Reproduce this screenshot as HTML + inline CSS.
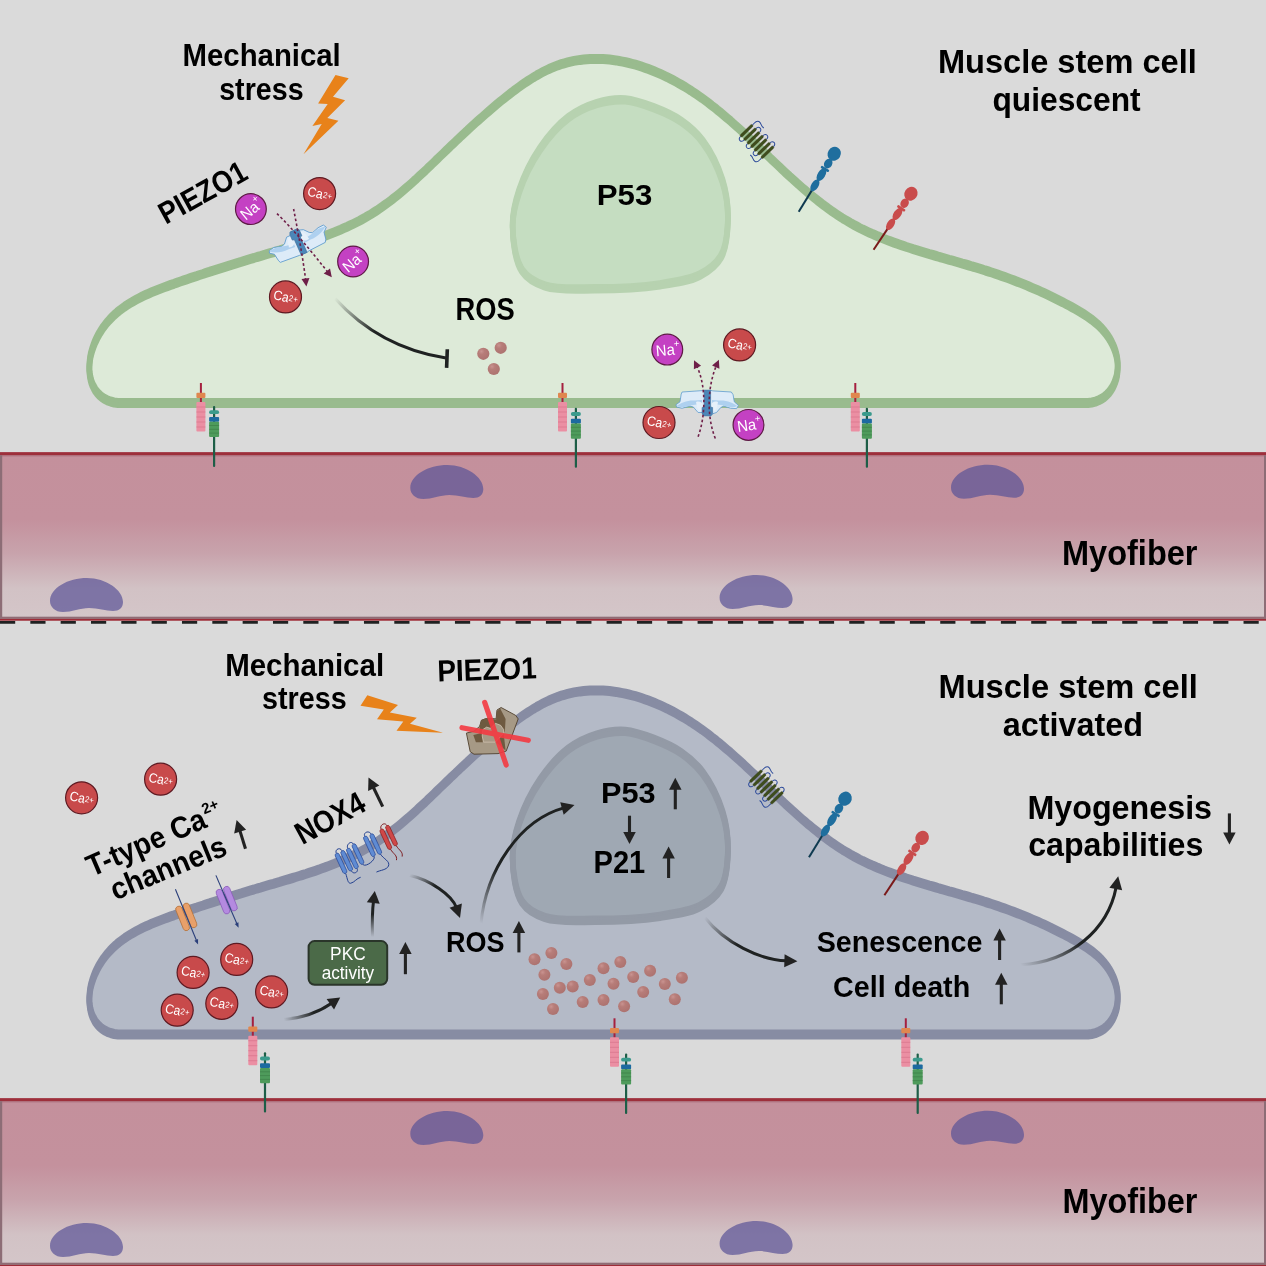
<!DOCTYPE html>
<html><head><meta charset="utf-8"><style>
html,body{margin:0;padding:0;background:#dadada;}
svg{display:block;font-family:"Liberation Sans", sans-serif;will-change:transform;}
</style></head><body>
<svg width="1266" height="1266" viewBox="0 0 1266 1266">

<defs>
 <linearGradient id="fib" x1="0" y1="0" x2="0" y2="1">
  <stop offset="0" stop-color="#c4909c"/>
  <stop offset="0.40" stop-color="#c4919d"/>
  <stop offset="0.60" stop-color="#c8a3ac"/>
  <stop offset="0.81" stop-color="#d2c2c5"/>
  <stop offset="1" stop-color="#d4c6c9"/>
 </linearGradient>
 <linearGradient id="fadeA" gradientUnits="userSpaceOnUse" x1="335" y1="298" x2="400" y2="340">
  <stop offset="0" stop-color="#222" stop-opacity="0"/>
  <stop offset="1" stop-color="#222" stop-opacity="1"/>
 </linearGradient>
 <radialGradient id="ros" cx="0.35" cy="0.3" r="0.7">
  <stop offset="0" stop-color="#c99390"/>
  <stop offset="0.35" stop-color="#b77d79"/>
  <stop offset="1" stop-color="#ad7370"/>
 </radialGradient>
</defs>

<defs><linearGradient id="gInh" gradientUnits="userSpaceOnUse" x1="334.8" y1="298.2" x2="446.8" y2="358.2"><stop offset="0" stop-color="#1f2222" stop-opacity="0.0"/><stop offset="0.4" stop-color="#1f2222" stop-opacity="1"/><stop offset="1" stop-color="#1f2222" stop-opacity="1"/></linearGradient><linearGradient id="gA1" gradientUnits="userSpaceOnUse" x1="283.8" y1="1019.5" x2="340.2" y2="997.4"><stop offset="0" stop-color="#1f2222" stop-opacity="0.0"/><stop offset="0.5" stop-color="#1f2222" stop-opacity="1"/><stop offset="1" stop-color="#1f2222" stop-opacity="1"/></linearGradient><linearGradient id="gA2" gradientUnits="userSpaceOnUse" x1="372.5" y1="937" x2="374.8" y2="891"><stop offset="0" stop-color="#1f2222" stop-opacity="0.0"/><stop offset="0.5" stop-color="#1f2222" stop-opacity="1"/><stop offset="1" stop-color="#1f2222" stop-opacity="1"/></linearGradient><linearGradient id="gA3" gradientUnits="userSpaceOnUse" x1="409.5" y1="875.3" x2="460" y2="918"><stop offset="0" stop-color="#1f2222" stop-opacity="0.0"/><stop offset="0.4" stop-color="#1f2222" stop-opacity="1"/><stop offset="1" stop-color="#1f2222" stop-opacity="1"/></linearGradient><linearGradient id="gA4" gradientUnits="userSpaceOnUse" x1="481" y1="923.5" x2="520" y2="840"><stop offset="0" stop-color="#1f2222" stop-opacity="0.0"/><stop offset="0.6" stop-color="#1f2222" stop-opacity="1"/><stop offset="1" stop-color="#1f2222" stop-opacity="1"/></linearGradient><linearGradient id="gA5" gradientUnits="userSpaceOnUse" x1="704.8" y1="917.5" x2="797.4" y2="961.2"><stop offset="0" stop-color="#1f2222" stop-opacity="0.0"/><stop offset="0.4" stop-color="#1f2222" stop-opacity="1"/><stop offset="1" stop-color="#1f2222" stop-opacity="1"/></linearGradient><linearGradient id="gA6" gradientUnits="userSpaceOnUse" x1="1020.6" y1="964.8" x2="1118.2" y2="876.3"><stop offset="0" stop-color="#1f2222" stop-opacity="0.0"/><stop offset="0.45" stop-color="#1f2222" stop-opacity="1"/><stop offset="1" stop-color="#1f2222" stop-opacity="1"/></linearGradient></defs>
<rect width="1266" height="1266" fill="#dadada"/>
<rect x="0" y="452.2" width="1266" height="168.50000000000006" fill="url(#fib)"/>
<rect x="0" y="452.2" width="1266" height="3" fill="#9d2f3b"/>
<rect x="0" y="455.2" width="1266" height="1.2" fill="#a86a76" opacity="0.7"/>
<rect x="0" y="616.7" width="1266" height="2.2" fill="#8f6c75"/>
<rect x="0" y="618.9" width="1266" height="1.8" fill="#9e2b37"/>
<rect x="0" y="455.2" width="2.2" height="163.5" fill="#8d6d76"/>
<rect x="1264" y="455.2" width="2.2" height="163.5" fill="#8d6d76"/>
<path transform="translate(410.3,465)" d="M0,23 C0,10 18,0 37,0 C56,0 73,12 73,24 C73,30 69,33 63,33 C56,33 48,30 39,30 C30,30 22,34 13,34 C5,34 0,29 0,23Z" fill="#5a5297" fill-opacity="0.7"/>
<path transform="translate(951,464.8)" d="M0,23 C0,10 18,0 37,0 C56,0 73,12 73,24 C73,30 69,33 63,33 C56,33 48,30 39,30 C30,30 22,34 13,34 C5,34 0,29 0,23Z" fill="#5a5297" fill-opacity="0.7"/>
<path transform="translate(50,578)" d="M0,23 C0,10 18,0 37,0 C56,0 73,12 73,24 C73,30 69,33 63,33 C56,33 48,30 39,30 C30,30 22,34 13,34 C5,34 0,29 0,23Z" fill="#5a5297" fill-opacity="0.7"/>
<path transform="translate(719.6,575)" d="M0,23 C0,10 18,0 37,0 C56,0 73,12 73,24 C73,30 69,33 63,33 C56,33 48,30 39,30 C30,30 22,34 13,34 C5,34 0,29 0,23Z" fill="#5a5297" fill-opacity="0.7"/>
<rect x="0" y="1098.2" width="1266" height="168.50000000000006" fill="url(#fib)"/>
<rect x="0" y="1098.2" width="1266" height="3" fill="#9d2f3b"/>
<rect x="0" y="1101.2" width="1266" height="1.2" fill="#a86a76" opacity="0.7"/>
<rect x="0" y="1262.7" width="1266" height="2.2" fill="#8f6c75"/>
<rect x="0" y="1264.9" width="1266" height="1.8" fill="#9e2b37"/>
<rect x="0" y="1101.2" width="2.2" height="163.5" fill="#8d6d76"/>
<rect x="1264" y="1101.2" width="2.2" height="163.5" fill="#8d6d76"/>
<path transform="translate(410.3,1111)" d="M0,23 C0,10 18,0 37,0 C56,0 73,12 73,24 C73,30 69,33 63,33 C56,33 48,30 39,30 C30,30 22,34 13,34 C5,34 0,29 0,23Z" fill="#5a5297" fill-opacity="0.7"/>
<path transform="translate(951,1110.8)" d="M0,23 C0,10 18,0 37,0 C56,0 73,12 73,24 C73,30 69,33 63,33 C56,33 48,30 39,30 C30,30 22,34 13,34 C5,34 0,29 0,23Z" fill="#5a5297" fill-opacity="0.7"/>
<path transform="translate(50,1223)" d="M0,23 C0,10 18,0 37,0 C56,0 73,12 73,24 C73,30 69,33 63,33 C56,33 48,30 39,30 C30,30 22,34 13,34 C5,34 0,29 0,23Z" fill="#5a5297" fill-opacity="0.7"/>
<path transform="translate(719.6,1221)" d="M0,23 C0,10 18,0 37,0 C56,0 73,12 73,24 C73,30 69,33 63,33 C56,33 48,30 39,30 C30,30 22,34 13,34 C5,34 0,29 0,23Z" fill="#5a5297" fill-opacity="0.7"/>
<line x1="0" y1="622.45" x2="1266" y2="622.45" stroke="#1f2121" stroke-width="2.7" stroke-dasharray="15.2 15.13"/>
<path d="M118.0,403.0 L114.1,402.5 L110.6,401.5 L107.3,400.3 L104.3,398.8 L101.7,397.0 L99.3,394.9 L97.2,392.6 L95.3,390.1 L93.8,387.4 L92.4,384.6 L91.3,381.6 L90.5,378.5 L89.9,375.4 L89.5,372.2 L89.3,368.9 L89.4,365.6 L89.6,362.3 L90.0,359.0 L90.6,355.7 L91.4,352.4 L92.4,349.1 L93.5,345.9 L94.7,342.7 L96.2,339.5 L97.7,336.4 L99.4,333.4 L101.2,330.5 L103.1,327.6 L105.2,324.9 L107.3,322.2 L109.5,319.7 L111.9,317.3 L114.3,314.9 L116.8,312.7 L119.3,310.6 L122.0,308.6 L124.7,306.6 L127.5,304.8 L130.3,303.0 L133.2,301.3 L136.2,299.6 L139.1,298.1 L142.2,296.5 L145.3,295.1 L148.4,293.7 L151.5,292.3 L154.7,291.0 L157.9,289.7 L161.1,288.5 L164.3,287.3 L167.5,286.1 L170.7,284.9 L174.0,283.8 L177.2,282.6 L180.4,281.5 L183.6,280.4 L186.9,279.3 L190.1,278.2 L193.3,277.1 L196.5,276.1 L199.7,275.0 L202.9,274.0 L206.0,272.9 L209.2,271.9 L212.4,270.8 L215.6,269.8 L218.8,268.8 L222.0,267.8 L225.2,266.8 L228.3,265.8 L231.5,264.8 L234.7,263.8 L237.9,262.8 L241.1,261.9 L244.3,260.9 L247.5,259.9 L250.7,258.9 L253.9,258.0 L257.1,257.0 L260.3,256.1 L263.5,255.1 L266.7,254.2 L270.0,253.2 L273.2,252.3 L276.4,251.3 L279.7,250.4 L282.9,249.4 L286.2,248.4 L289.4,247.5 L292.7,246.5 L295.9,245.5 L299.1,244.5 L302.4,243.5 L305.6,242.5 L308.8,241.4 L312.0,240.4 L315.3,239.3 L318.5,238.2 L321.6,237.0 L324.8,235.9 L328.0,234.7 L331.1,233.5 L334.3,232.3 L337.4,231.0 L340.5,229.7 L343.6,228.3 L346.7,227.0 L349.7,225.6 L352.8,224.1 L355.8,222.6 L358.8,221.1 L361.8,219.5 L364.7,217.9 L367.6,216.2 L370.5,214.5 L373.4,212.7 L376.2,210.9 L379.0,209.0 L381.8,207.1 L384.6,205.1 L387.3,203.1 L390.0,201.1 L392.7,199.0 L395.4,196.9 L398.0,194.8 L400.7,192.6 L403.3,190.4 L405.9,188.2 L408.4,186.0 L411.0,183.7 L413.5,181.4 L416.0,179.2 L418.5,176.8 L421.0,174.5 L423.5,172.2 L426.0,169.9 L428.4,167.5 L430.9,165.2 L433.3,162.9 L435.7,160.5 L438.1,158.2 L440.5,155.9 L442.9,153.6 L445.3,151.3 L447.7,149.0 L450.0,146.7 L452.4,144.4 L454.8,142.2 L457.2,139.9 L459.5,137.7 L461.9,135.4 L464.3,133.2 L466.7,131.0 L469.1,128.7 L471.5,126.5 L474.0,124.3 L476.4,122.1 L478.9,119.9 L481.4,117.7 L483.9,115.5 L486.4,113.3 L488.9,111.1 L491.5,108.9 L494.1,106.7 L496.7,104.4 L499.4,102.2 L502.1,100.0 L504.8,97.8 L507.6,95.6 L510.3,93.5 L513.1,91.3 L516.0,89.2 L518.8,87.1 L521.7,85.0 L524.6,83.0 L527.5,81.1 L530.5,79.2 L533.5,77.3 L536.5,75.5 L539.5,73.8 L542.5,72.2 L545.6,70.6 L548.7,69.1 L551.8,67.8 L554.9,66.5 L558.0,65.3 L561.2,64.2 L564.3,63.3 L567.5,62.4 L570.7,61.6 L573.9,60.9 L577.1,60.4 L580.3,59.9 L583.6,59.5 L586.8,59.2 L590.0,59.0 L593.3,58.9 L596.5,58.9 L599.8,58.9 L603.1,59.1 L606.3,59.3 L609.6,59.6 L612.8,60.0 L616.1,60.4 L619.3,61.0 L622.6,61.6 L625.8,62.3 L629.0,63.0 L632.2,63.8 L635.5,64.7 L638.7,65.7 L641.8,66.7 L645.0,67.8 L648.2,68.9 L651.3,70.1 L654.5,71.4 L657.6,72.7 L660.7,74.1 L663.8,75.5 L666.8,76.9 L669.9,78.5 L672.9,80.0 L675.9,81.6 L678.8,83.3 L681.8,85.0 L684.7,86.7 L687.6,88.5 L690.5,90.3 L693.3,92.2 L696.1,94.1 L698.9,96.0 L701.7,97.9 L704.4,99.9 L707.1,101.9 L709.8,104.0 L712.5,106.1 L715.2,108.1 L717.8,110.3 L720.4,112.4 L723.0,114.6 L725.6,116.8 L728.2,119.0 L730.8,121.2 L733.3,123.5 L735.8,125.7 L738.4,128.0 L740.9,130.3 L743.4,132.6 L745.9,134.9 L748.4,137.2 L750.9,139.6 L753.3,141.9 L755.8,144.3 L758.3,146.6 L760.7,149.0 L763.2,151.3 L765.6,153.7 L768.1,156.0 L770.5,158.4 L773.0,160.7 L775.5,163.1 L777.9,165.4 L780.4,167.7 L782.8,170.1 L785.3,172.4 L787.8,174.7 L790.3,177.0 L792.8,179.2 L795.3,181.5 L797.8,183.8 L800.3,186.0 L802.8,188.2 L805.4,190.4 L807.9,192.6 L810.5,194.7 L813.1,196.8 L815.7,198.9 L818.3,201.0 L820.9,203.0 L823.5,205.1 L826.2,207.0 L828.9,209.0 L831.6,210.9 L834.3,212.8 L837.1,214.7 L839.8,216.5 L842.6,218.3 L845.5,220.0 L848.3,221.7 L851.2,223.4 L854.1,225.0 L857.0,226.5 L859.9,228.1 L862.9,229.6 L865.9,231.0 L868.9,232.4 L872.0,233.8 L875.1,235.1 L878.1,236.4 L881.3,237.7 L884.4,239.0 L887.5,240.2 L890.7,241.4 L893.9,242.6 L897.0,243.7 L900.3,244.8 L903.5,245.9 L906.7,247.0 L909.9,248.0 L913.2,249.1 L916.5,250.1 L919.7,251.1 L923.0,252.1 L926.3,253.1 L929.6,254.1 L932.9,255.0 L936.2,256.0 L939.4,257.0 L942.7,257.9 L946.0,258.8 L949.3,259.8 L952.6,260.7 L955.9,261.7 L959.2,262.6 L962.5,263.6 L965.8,264.5 L969.1,265.5 L972.3,266.5 L975.6,267.4 L978.9,268.4 L982.1,269.4 L985.3,270.5 L988.6,271.5 L991.8,272.5 L995.0,273.6 L998.1,274.7 L1001.3,275.8 L1004.5,276.9 L1007.6,278.0 L1010.8,279.2 L1013.9,280.4 L1017.0,281.6 L1020.1,282.8 L1023.2,284.0 L1026.3,285.3 L1029.4,286.6 L1032.4,287.9 L1035.5,289.2 L1038.6,290.6 L1041.6,291.9 L1044.6,293.3 L1047.7,294.8 L1050.7,296.2 L1053.7,297.7 L1056.7,299.2 L1059.7,300.7 L1062.7,302.2 L1065.7,303.8 L1068.7,305.4 L1071.6,307.0 L1074.6,308.7 L1077.6,310.4 L1080.5,312.1 L1083.4,313.9 L1086.3,315.8 L1089.1,317.7 L1091.9,319.7 L1094.5,321.8 L1097.1,324.0 L1099.6,326.3 L1101.9,328.7 L1104.1,331.3 L1106.2,333.9 L1108.2,336.6 L1110.0,339.5 L1111.6,342.4 L1113.0,345.3 L1114.3,348.4 L1115.4,351.5 L1116.3,354.7 L1117.0,357.9 L1117.5,361.1 L1117.7,364.4 L1117.7,367.8 L1117.5,371.1 L1117.1,374.4 L1116.4,377.6 L1115.4,380.8 L1114.2,383.9 L1112.8,386.8 L1111.1,389.6 L1109.1,392.3 L1106.9,394.7 L1104.4,396.9 L1101.7,398.8 L1098.7,400.3 L1095.4,401.6 L1091.8,402.5 L1088.0,403.0 L118,403 Z" fill="#ddead8"/>
<path d="M118.0,403.0 L114.1,402.5 L110.6,401.5 L107.3,400.3 L104.3,398.8 L101.7,397.0 L99.3,394.9 L97.2,392.6 L95.3,390.1 L93.8,387.4 L92.4,384.6 L91.3,381.6 L90.5,378.5 L89.9,375.4 L89.5,372.2 L89.3,368.9 L89.4,365.6 L89.6,362.3 L90.0,359.0 L90.6,355.7 L91.4,352.4 L92.4,349.1 L93.5,345.9 L94.7,342.7 L96.2,339.5 L97.7,336.4 L99.4,333.4 L101.2,330.5 L103.1,327.6 L105.2,324.9 L107.3,322.2 L109.5,319.7 L111.9,317.3 L114.3,314.9 L116.8,312.7 L119.3,310.6 L122.0,308.6 L124.7,306.6 L127.5,304.8 L130.3,303.0 L133.2,301.3 L136.2,299.6 L139.1,298.1 L142.2,296.5 L145.3,295.1 L148.4,293.7 L151.5,292.3 L154.7,291.0 L157.9,289.7 L161.1,288.5 L164.3,287.3 L167.5,286.1 L170.7,284.9 L174.0,283.8 L177.2,282.6 L180.4,281.5 L183.6,280.4 L186.9,279.3 L190.1,278.2 L193.3,277.1 L196.5,276.1 L199.7,275.0 L202.9,274.0 L206.0,272.9 L209.2,271.9 L212.4,270.8 L215.6,269.8 L218.8,268.8 L222.0,267.8 L225.2,266.8 L228.3,265.8 L231.5,264.8 L234.7,263.8 L237.9,262.8 L241.1,261.9 L244.3,260.9 L247.5,259.9 L250.7,258.9 L253.9,258.0 L257.1,257.0 L260.3,256.1 L263.5,255.1 L266.7,254.2 L270.0,253.2 L273.2,252.3 L276.4,251.3 L279.7,250.4 L282.9,249.4 L286.2,248.4 L289.4,247.5 L292.7,246.5 L295.9,245.5 L299.1,244.5 L302.4,243.5 L305.6,242.5 L308.8,241.4 L312.0,240.4 L315.3,239.3 L318.5,238.2 L321.6,237.0 L324.8,235.9 L328.0,234.7 L331.1,233.5 L334.3,232.3 L337.4,231.0 L340.5,229.7 L343.6,228.3 L346.7,227.0 L349.7,225.6 L352.8,224.1 L355.8,222.6 L358.8,221.1 L361.8,219.5 L364.7,217.9 L367.6,216.2 L370.5,214.5 L373.4,212.7 L376.2,210.9 L379.0,209.0 L381.8,207.1 L384.6,205.1 L387.3,203.1 L390.0,201.1 L392.7,199.0 L395.4,196.9 L398.0,194.8 L400.7,192.6 L403.3,190.4 L405.9,188.2 L408.4,186.0 L411.0,183.7 L413.5,181.4 L416.0,179.2 L418.5,176.8 L421.0,174.5 L423.5,172.2 L426.0,169.9 L428.4,167.5 L430.9,165.2 L433.3,162.9 L435.7,160.5 L438.1,158.2 L440.5,155.9 L442.9,153.6 L445.3,151.3 L447.7,149.0 L450.0,146.7 L452.4,144.4 L454.8,142.2 L457.2,139.9 L459.5,137.7 L461.9,135.4 L464.3,133.2 L466.7,131.0 L469.1,128.7 L471.5,126.5 L474.0,124.3 L476.4,122.1 L478.9,119.9 L481.4,117.7 L483.9,115.5 L486.4,113.3 L488.9,111.1 L491.5,108.9 L494.1,106.7 L496.7,104.4 L499.4,102.2 L502.1,100.0 L504.8,97.8 L507.6,95.6 L510.3,93.5 L513.1,91.3 L516.0,89.2 L518.8,87.1 L521.7,85.0 L524.6,83.0 L527.5,81.1 L530.5,79.2 L533.5,77.3 L536.5,75.5 L539.5,73.8 L542.5,72.2 L545.6,70.6 L548.7,69.1 L551.8,67.8 L554.9,66.5 L558.0,65.3 L561.2,64.2 L564.3,63.3 L567.5,62.4 L570.7,61.6 L573.9,60.9 L577.1,60.4 L580.3,59.9 L583.6,59.5 L586.8,59.2 L590.0,59.0 L593.3,58.9 L596.5,58.9 L599.8,58.9 L603.1,59.1 L606.3,59.3 L609.6,59.6 L612.8,60.0 L616.1,60.4 L619.3,61.0 L622.6,61.6 L625.8,62.3 L629.0,63.0 L632.2,63.8 L635.5,64.7 L638.7,65.7 L641.8,66.7 L645.0,67.8 L648.2,68.9 L651.3,70.1 L654.5,71.4 L657.6,72.7 L660.7,74.1 L663.8,75.5 L666.8,76.9 L669.9,78.5 L672.9,80.0 L675.9,81.6 L678.8,83.3 L681.8,85.0 L684.7,86.7 L687.6,88.5 L690.5,90.3 L693.3,92.2 L696.1,94.1 L698.9,96.0 L701.7,97.9 L704.4,99.9 L707.1,101.9 L709.8,104.0 L712.5,106.1 L715.2,108.1 L717.8,110.3 L720.4,112.4 L723.0,114.6 L725.6,116.8 L728.2,119.0 L730.8,121.2 L733.3,123.5 L735.8,125.7 L738.4,128.0 L740.9,130.3 L743.4,132.6 L745.9,134.9 L748.4,137.2 L750.9,139.6 L753.3,141.9 L755.8,144.3 L758.3,146.6 L760.7,149.0 L763.2,151.3 L765.6,153.7 L768.1,156.0 L770.5,158.4 L773.0,160.7 L775.5,163.1 L777.9,165.4 L780.4,167.7 L782.8,170.1 L785.3,172.4 L787.8,174.7 L790.3,177.0 L792.8,179.2 L795.3,181.5 L797.8,183.8 L800.3,186.0 L802.8,188.2 L805.4,190.4 L807.9,192.6 L810.5,194.7 L813.1,196.8 L815.7,198.9 L818.3,201.0 L820.9,203.0 L823.5,205.1 L826.2,207.0 L828.9,209.0 L831.6,210.9 L834.3,212.8 L837.1,214.7 L839.8,216.5 L842.6,218.3 L845.5,220.0 L848.3,221.7 L851.2,223.4 L854.1,225.0 L857.0,226.5 L859.9,228.1 L862.9,229.6 L865.9,231.0 L868.9,232.4 L872.0,233.8 L875.1,235.1 L878.1,236.4 L881.3,237.7 L884.4,239.0 L887.5,240.2 L890.7,241.4 L893.9,242.6 L897.0,243.7 L900.3,244.8 L903.5,245.9 L906.7,247.0 L909.9,248.0 L913.2,249.1 L916.5,250.1 L919.7,251.1 L923.0,252.1 L926.3,253.1 L929.6,254.1 L932.9,255.0 L936.2,256.0 L939.4,257.0 L942.7,257.9 L946.0,258.8 L949.3,259.8 L952.6,260.7 L955.9,261.7 L959.2,262.6 L962.5,263.6 L965.8,264.5 L969.1,265.5 L972.3,266.5 L975.6,267.4 L978.9,268.4 L982.1,269.4 L985.3,270.5 L988.6,271.5 L991.8,272.5 L995.0,273.6 L998.1,274.7 L1001.3,275.8 L1004.5,276.9 L1007.6,278.0 L1010.8,279.2 L1013.9,280.4 L1017.0,281.6 L1020.1,282.8 L1023.2,284.0 L1026.3,285.3 L1029.4,286.6 L1032.4,287.9 L1035.5,289.2 L1038.6,290.6 L1041.6,291.9 L1044.6,293.3 L1047.7,294.8 L1050.7,296.2 L1053.7,297.7 L1056.7,299.2 L1059.7,300.7 L1062.7,302.2 L1065.7,303.8 L1068.7,305.4 L1071.6,307.0 L1074.6,308.7 L1077.6,310.4 L1080.5,312.1 L1083.4,313.9 L1086.3,315.8 L1089.1,317.7 L1091.9,319.7 L1094.5,321.8 L1097.1,324.0 L1099.6,326.3 L1101.9,328.7 L1104.1,331.3 L1106.2,333.9 L1108.2,336.6 L1110.0,339.5 L1111.6,342.4 L1113.0,345.3 L1114.3,348.4 L1115.4,351.5 L1116.3,354.7 L1117.0,357.9 L1117.5,361.1 L1117.7,364.4 L1117.7,367.8 L1117.5,371.1 L1117.1,374.4 L1116.4,377.6 L1115.4,380.8 L1114.2,383.9 L1112.8,386.8 L1111.1,389.6 L1109.1,392.3 L1106.9,394.7 L1104.4,396.9 L1101.7,398.8 L1098.7,400.3 L1095.4,401.6 L1091.8,402.5 L1088.0,403.0 L118,403 Z" transform="translate(0,-2.2)" fill="none" stroke="#99bb8e" stroke-width="5.6" stroke-linejoin="round"/>
<path d="M118.0,403.0 L114.1,402.5 L110.6,401.5 L107.3,400.3 L104.3,398.8 L101.7,397.0 L99.3,394.9 L97.2,392.6 L95.3,390.1 L93.8,387.4 L92.4,384.6 L91.3,381.6 L90.5,378.5 L89.9,375.4 L89.5,372.2 L89.3,368.9 L89.4,365.6 L89.6,362.3 L90.0,359.0 L90.6,355.7 L91.4,352.4 L92.4,349.1 L93.5,345.9 L94.7,342.7 L96.2,339.5 L97.7,336.4 L99.4,333.4 L101.2,330.5 L103.1,327.6 L105.2,324.9 L107.3,322.2 L109.5,319.7 L111.9,317.3 L114.3,314.9 L116.8,312.7 L119.3,310.6 L122.0,308.6 L124.7,306.6 L127.5,304.8 L130.3,303.0 L133.2,301.3 L136.2,299.6 L139.1,298.1 L142.2,296.5 L145.3,295.1 L148.4,293.7 L151.5,292.3 L154.7,291.0 L157.9,289.7 L161.1,288.5 L164.3,287.3 L167.5,286.1 L170.7,284.9 L174.0,283.8 L177.2,282.6 L180.4,281.5 L183.6,280.4 L186.9,279.3 L190.1,278.2 L193.3,277.1 L196.5,276.1 L199.7,275.0 L202.9,274.0 L206.0,272.9 L209.2,271.9 L212.4,270.8 L215.6,269.8 L218.8,268.8 L222.0,267.8 L225.2,266.8 L228.3,265.8 L231.5,264.8 L234.7,263.8 L237.9,262.8 L241.1,261.9 L244.3,260.9 L247.5,259.9 L250.7,258.9 L253.9,258.0 L257.1,257.0 L260.3,256.1 L263.5,255.1 L266.7,254.2 L270.0,253.2 L273.2,252.3 L276.4,251.3 L279.7,250.4 L282.9,249.4 L286.2,248.4 L289.4,247.5 L292.7,246.5 L295.9,245.5 L299.1,244.5 L302.4,243.5 L305.6,242.5 L308.8,241.4 L312.0,240.4 L315.3,239.3 L318.5,238.2 L321.6,237.0 L324.8,235.9 L328.0,234.7 L331.1,233.5 L334.3,232.3 L337.4,231.0 L340.5,229.7 L343.6,228.3 L346.7,227.0 L349.7,225.6 L352.8,224.1 L355.8,222.6 L358.8,221.1 L361.8,219.5 L364.7,217.9 L367.6,216.2 L370.5,214.5 L373.4,212.7 L376.2,210.9 L379.0,209.0 L381.8,207.1 L384.6,205.1 L387.3,203.1 L390.0,201.1 L392.7,199.0 L395.4,196.9 L398.0,194.8 L400.7,192.6 L403.3,190.4 L405.9,188.2 L408.4,186.0 L411.0,183.7 L413.5,181.4 L416.0,179.2 L418.5,176.8 L421.0,174.5 L423.5,172.2 L426.0,169.9 L428.4,167.5 L430.9,165.2 L433.3,162.9 L435.7,160.5 L438.1,158.2 L440.5,155.9 L442.9,153.6 L445.3,151.3 L447.7,149.0 L450.0,146.7 L452.4,144.4 L454.8,142.2 L457.2,139.9 L459.5,137.7 L461.9,135.4 L464.3,133.2 L466.7,131.0 L469.1,128.7 L471.5,126.5 L474.0,124.3 L476.4,122.1 L478.9,119.9 L481.4,117.7 L483.9,115.5 L486.4,113.3 L488.9,111.1 L491.5,108.9 L494.1,106.7 L496.7,104.4 L499.4,102.2 L502.1,100.0 L504.8,97.8 L507.6,95.6 L510.3,93.5 L513.1,91.3 L516.0,89.2 L518.8,87.1 L521.7,85.0 L524.6,83.0 L527.5,81.1 L530.5,79.2 L533.5,77.3 L536.5,75.5 L539.5,73.8 L542.5,72.2 L545.6,70.6 L548.7,69.1 L551.8,67.8 L554.9,66.5 L558.0,65.3 L561.2,64.2 L564.3,63.3 L567.5,62.4 L570.7,61.6 L573.9,60.9 L577.1,60.4 L580.3,59.9 L583.6,59.5 L586.8,59.2 L590.0,59.0 L593.3,58.9 L596.5,58.9 L599.8,58.9 L603.1,59.1 L606.3,59.3 L609.6,59.6 L612.8,60.0 L616.1,60.4 L619.3,61.0 L622.6,61.6 L625.8,62.3 L629.0,63.0 L632.2,63.8 L635.5,64.7 L638.7,65.7 L641.8,66.7 L645.0,67.8 L648.2,68.9 L651.3,70.1 L654.5,71.4 L657.6,72.7 L660.7,74.1 L663.8,75.5 L666.8,76.9 L669.9,78.5 L672.9,80.0 L675.9,81.6 L678.8,83.3 L681.8,85.0 L684.7,86.7 L687.6,88.5 L690.5,90.3 L693.3,92.2 L696.1,94.1 L698.9,96.0 L701.7,97.9 L704.4,99.9 L707.1,101.9 L709.8,104.0 L712.5,106.1 L715.2,108.1 L717.8,110.3 L720.4,112.4 L723.0,114.6 L725.6,116.8 L728.2,119.0 L730.8,121.2 L733.3,123.5 L735.8,125.7 L738.4,128.0 L740.9,130.3 L743.4,132.6 L745.9,134.9 L748.4,137.2 L750.9,139.6 L753.3,141.9 L755.8,144.3 L758.3,146.6 L760.7,149.0 L763.2,151.3 L765.6,153.7 L768.1,156.0 L770.5,158.4 L773.0,160.7 L775.5,163.1 L777.9,165.4 L780.4,167.7 L782.8,170.1 L785.3,172.4 L787.8,174.7 L790.3,177.0 L792.8,179.2 L795.3,181.5 L797.8,183.8 L800.3,186.0 L802.8,188.2 L805.4,190.4 L807.9,192.6 L810.5,194.7 L813.1,196.8 L815.7,198.9 L818.3,201.0 L820.9,203.0 L823.5,205.1 L826.2,207.0 L828.9,209.0 L831.6,210.9 L834.3,212.8 L837.1,214.7 L839.8,216.5 L842.6,218.3 L845.5,220.0 L848.3,221.7 L851.2,223.4 L854.1,225.0 L857.0,226.5 L859.9,228.1 L862.9,229.6 L865.9,231.0 L868.9,232.4 L872.0,233.8 L875.1,235.1 L878.1,236.4 L881.3,237.7 L884.4,239.0 L887.5,240.2 L890.7,241.4 L893.9,242.6 L897.0,243.7 L900.3,244.8 L903.5,245.9 L906.7,247.0 L909.9,248.0 L913.2,249.1 L916.5,250.1 L919.7,251.1 L923.0,252.1 L926.3,253.1 L929.6,254.1 L932.9,255.0 L936.2,256.0 L939.4,257.0 L942.7,257.9 L946.0,258.8 L949.3,259.8 L952.6,260.7 L955.9,261.7 L959.2,262.6 L962.5,263.6 L965.8,264.5 L969.1,265.5 L972.3,266.5 L975.6,267.4 L978.9,268.4 L982.1,269.4 L985.3,270.5 L988.6,271.5 L991.8,272.5 L995.0,273.6 L998.1,274.7 L1001.3,275.8 L1004.5,276.9 L1007.6,278.0 L1010.8,279.2 L1013.9,280.4 L1017.0,281.6 L1020.1,282.8 L1023.2,284.0 L1026.3,285.3 L1029.4,286.6 L1032.4,287.9 L1035.5,289.2 L1038.6,290.6 L1041.6,291.9 L1044.6,293.3 L1047.7,294.8 L1050.7,296.2 L1053.7,297.7 L1056.7,299.2 L1059.7,300.7 L1062.7,302.2 L1065.7,303.8 L1068.7,305.4 L1071.6,307.0 L1074.6,308.7 L1077.6,310.4 L1080.5,312.1 L1083.4,313.9 L1086.3,315.8 L1089.1,317.7 L1091.9,319.7 L1094.5,321.8 L1097.1,324.0 L1099.6,326.3 L1101.9,328.7 L1104.1,331.3 L1106.2,333.9 L1108.2,336.6 L1110.0,339.5 L1111.6,342.4 L1113.0,345.3 L1114.3,348.4 L1115.4,351.5 L1116.3,354.7 L1117.0,357.9 L1117.5,361.1 L1117.7,364.4 L1117.7,367.8 L1117.5,371.1 L1117.1,374.4 L1116.4,377.6 L1115.4,380.8 L1114.2,383.9 L1112.8,386.8 L1111.1,389.6 L1109.1,392.3 L1106.9,394.7 L1104.4,396.9 L1101.7,398.8 L1098.7,400.3 L1095.4,401.6 L1091.8,402.5 L1088.0,403.0 L118,403 Z" transform="translate(0,0)" fill="none" stroke="#99bb8e" stroke-width="5.6" stroke-linejoin="round"/>
<path d="M118.0,403.0 L114.1,402.5 L110.6,401.5 L107.3,400.3 L104.3,398.8 L101.7,397.0 L99.3,394.9 L97.2,392.6 L95.3,390.1 L93.8,387.4 L92.4,384.6 L91.3,381.6 L90.5,378.5 L89.9,375.4 L89.5,372.2 L89.3,368.9 L89.4,365.6 L89.6,362.3 L90.0,359.0 L90.6,355.7 L91.4,352.4 L92.4,349.1 L93.5,345.9 L94.7,342.7 L96.2,339.5 L97.7,336.4 L99.4,333.4 L101.2,330.5 L103.1,327.6 L105.2,324.9 L107.3,322.2 L109.5,319.7 L111.9,317.3 L114.3,314.9 L116.8,312.7 L119.3,310.6 L122.0,308.6 L124.7,306.6 L127.5,304.8 L130.3,303.0 L133.2,301.3 L136.2,299.6 L139.1,298.1 L142.2,296.5 L145.3,295.1 L148.4,293.7 L151.5,292.3 L154.7,291.0 L157.9,289.7 L161.1,288.5 L164.3,287.3 L167.5,286.1 L170.7,284.9 L174.0,283.8 L177.2,282.6 L180.4,281.5 L183.6,280.4 L186.9,279.3 L190.1,278.2 L193.3,277.1 L196.5,276.1 L199.7,275.0 L202.9,274.0 L206.0,272.9 L209.2,271.9 L212.4,270.8 L215.6,269.8 L218.8,268.8 L222.0,267.8 L225.2,266.8 L228.3,265.8 L231.5,264.8 L234.7,263.8 L237.9,262.8 L241.1,261.9 L244.3,260.9 L247.5,259.9 L250.7,258.9 L253.9,258.0 L257.1,257.0 L260.3,256.1 L263.5,255.1 L266.7,254.2 L270.0,253.2 L273.2,252.3 L276.4,251.3 L279.7,250.4 L282.9,249.4 L286.2,248.4 L289.4,247.5 L292.7,246.5 L295.9,245.5 L299.1,244.5 L302.4,243.5 L305.6,242.5 L308.8,241.4 L312.0,240.4 L315.3,239.3 L318.5,238.2 L321.6,237.0 L324.8,235.9 L328.0,234.7 L331.1,233.5 L334.3,232.3 L337.4,231.0 L340.5,229.7 L343.6,228.3 L346.7,227.0 L349.7,225.6 L352.8,224.1 L355.8,222.6 L358.8,221.1 L361.8,219.5 L364.7,217.9 L367.6,216.2 L370.5,214.5 L373.4,212.7 L376.2,210.9 L379.0,209.0 L381.8,207.1 L384.6,205.1 L387.3,203.1 L390.0,201.1 L392.7,199.0 L395.4,196.9 L398.0,194.8 L400.7,192.6 L403.3,190.4 L405.9,188.2 L408.4,186.0 L411.0,183.7 L413.5,181.4 L416.0,179.2 L418.5,176.8 L421.0,174.5 L423.5,172.2 L426.0,169.9 L428.4,167.5 L430.9,165.2 L433.3,162.9 L435.7,160.5 L438.1,158.2 L440.5,155.9 L442.9,153.6 L445.3,151.3 L447.7,149.0 L450.0,146.7 L452.4,144.4 L454.8,142.2 L457.2,139.9 L459.5,137.7 L461.9,135.4 L464.3,133.2 L466.7,131.0 L469.1,128.7 L471.5,126.5 L474.0,124.3 L476.4,122.1 L478.9,119.9 L481.4,117.7 L483.9,115.5 L486.4,113.3 L488.9,111.1 L491.5,108.9 L494.1,106.7 L496.7,104.4 L499.4,102.2 L502.1,100.0 L504.8,97.8 L507.6,95.6 L510.3,93.5 L513.1,91.3 L516.0,89.2 L518.8,87.1 L521.7,85.0 L524.6,83.0 L527.5,81.1 L530.5,79.2 L533.5,77.3 L536.5,75.5 L539.5,73.8 L542.5,72.2 L545.6,70.6 L548.7,69.1 L551.8,67.8 L554.9,66.5 L558.0,65.3 L561.2,64.2 L564.3,63.3 L567.5,62.4 L570.7,61.6 L573.9,60.9 L577.1,60.4 L580.3,59.9 L583.6,59.5 L586.8,59.2 L590.0,59.0 L593.3,58.9 L596.5,58.9 L599.8,58.9 L603.1,59.1 L606.3,59.3 L609.6,59.6 L612.8,60.0 L616.1,60.4 L619.3,61.0 L622.6,61.6 L625.8,62.3 L629.0,63.0 L632.2,63.8 L635.5,64.7 L638.7,65.7 L641.8,66.7 L645.0,67.8 L648.2,68.9 L651.3,70.1 L654.5,71.4 L657.6,72.7 L660.7,74.1 L663.8,75.5 L666.8,76.9 L669.9,78.5 L672.9,80.0 L675.9,81.6 L678.8,83.3 L681.8,85.0 L684.7,86.7 L687.6,88.5 L690.5,90.3 L693.3,92.2 L696.1,94.1 L698.9,96.0 L701.7,97.9 L704.4,99.9 L707.1,101.9 L709.8,104.0 L712.5,106.1 L715.2,108.1 L717.8,110.3 L720.4,112.4 L723.0,114.6 L725.6,116.8 L728.2,119.0 L730.8,121.2 L733.3,123.5 L735.8,125.7 L738.4,128.0 L740.9,130.3 L743.4,132.6 L745.9,134.9 L748.4,137.2 L750.9,139.6 L753.3,141.9 L755.8,144.3 L758.3,146.6 L760.7,149.0 L763.2,151.3 L765.6,153.7 L768.1,156.0 L770.5,158.4 L773.0,160.7 L775.5,163.1 L777.9,165.4 L780.4,167.7 L782.8,170.1 L785.3,172.4 L787.8,174.7 L790.3,177.0 L792.8,179.2 L795.3,181.5 L797.8,183.8 L800.3,186.0 L802.8,188.2 L805.4,190.4 L807.9,192.6 L810.5,194.7 L813.1,196.8 L815.7,198.9 L818.3,201.0 L820.9,203.0 L823.5,205.1 L826.2,207.0 L828.9,209.0 L831.6,210.9 L834.3,212.8 L837.1,214.7 L839.8,216.5 L842.6,218.3 L845.5,220.0 L848.3,221.7 L851.2,223.4 L854.1,225.0 L857.0,226.5 L859.9,228.1 L862.9,229.6 L865.9,231.0 L868.9,232.4 L872.0,233.8 L875.1,235.1 L878.1,236.4 L881.3,237.7 L884.4,239.0 L887.5,240.2 L890.7,241.4 L893.9,242.6 L897.0,243.7 L900.3,244.8 L903.5,245.9 L906.7,247.0 L909.9,248.0 L913.2,249.1 L916.5,250.1 L919.7,251.1 L923.0,252.1 L926.3,253.1 L929.6,254.1 L932.9,255.0 L936.2,256.0 L939.4,257.0 L942.7,257.9 L946.0,258.8 L949.3,259.8 L952.6,260.7 L955.9,261.7 L959.2,262.6 L962.5,263.6 L965.8,264.5 L969.1,265.5 L972.3,266.5 L975.6,267.4 L978.9,268.4 L982.1,269.4 L985.3,270.5 L988.6,271.5 L991.8,272.5 L995.0,273.6 L998.1,274.7 L1001.3,275.8 L1004.5,276.9 L1007.6,278.0 L1010.8,279.2 L1013.9,280.4 L1017.0,281.6 L1020.1,282.8 L1023.2,284.0 L1026.3,285.3 L1029.4,286.6 L1032.4,287.9 L1035.5,289.2 L1038.6,290.6 L1041.6,291.9 L1044.6,293.3 L1047.7,294.8 L1050.7,296.2 L1053.7,297.7 L1056.7,299.2 L1059.7,300.7 L1062.7,302.2 L1065.7,303.8 L1068.7,305.4 L1071.6,307.0 L1074.6,308.7 L1077.6,310.4 L1080.5,312.1 L1083.4,313.9 L1086.3,315.8 L1089.1,317.7 L1091.9,319.7 L1094.5,321.8 L1097.1,324.0 L1099.6,326.3 L1101.9,328.7 L1104.1,331.3 L1106.2,333.9 L1108.2,336.6 L1110.0,339.5 L1111.6,342.4 L1113.0,345.3 L1114.3,348.4 L1115.4,351.5 L1116.3,354.7 L1117.0,357.9 L1117.5,361.1 L1117.7,364.4 L1117.7,367.8 L1117.5,371.1 L1117.1,374.4 L1116.4,377.6 L1115.4,380.8 L1114.2,383.9 L1112.8,386.8 L1111.1,389.6 L1109.1,392.3 L1106.9,394.7 L1104.4,396.9 L1101.7,398.8 L1098.7,400.3 L1095.4,401.6 L1091.8,402.5 L1088.0,403.0 L118,403 Z" transform="translate(0,2.2)" fill="none" stroke="#99bb8e" stroke-width="5.6" stroke-linejoin="round"/>
<path d="M625.3,99.9 C634.86,100.59 644.55,104.27 653.8,107.8 C663.22,111.4 673.09,115.72 681.3,121.4 C689.31,126.94 696.27,132.83 702.6,141.3 C710.42,151.76 718.3,167.61 722.5,181.1 C726.42,193.67 728.16,206.76 727.9,219.4 C727.64,231.86 726.51,246.84 721.1,256.4 C716.42,264.67 708.84,270.38 700,275 C689.31,280.59 675.07,282.51 660,284.8 C641.02,287.68 615.07,288.75 594.8,288.8 C577.08,288.85 557.97,290.36 545,286 C535.36,282.76 527.47,278.53 522.1,270.6 C515.23,260.45 512.81,240.27 512.6,226.4 C512.42,214.13 515.06,203.5 519,191.6 C523.57,177.81 531.44,161.58 540,149 C548.08,137.13 558.14,125.47 568.4,117.7 C577.3,110.96 587.15,106.45 596.9,103.5 C606.14,100.7 615.89,99.22 625.3,99.9Z" fill="#c5ddc1"/>
<path d="M625.3,99.9 C634.86,100.59 644.55,104.27 653.8,107.8 C663.22,111.4 673.09,115.72 681.3,121.4 C689.31,126.94 696.27,132.83 702.6,141.3 C710.42,151.76 718.3,167.61 722.5,181.1 C726.42,193.67 728.16,206.76 727.9,219.4 C727.64,231.86 726.51,246.84 721.1,256.4 C716.42,264.67 708.84,270.38 700,275 C689.31,280.59 675.07,282.51 660,284.8 C641.02,287.68 615.07,288.75 594.8,288.8 C577.08,288.85 557.97,290.36 545,286 C535.36,282.76 527.47,278.53 522.1,270.6 C515.23,260.45 512.81,240.27 512.6,226.4 C512.42,214.13 515.06,203.5 519,191.6 C523.57,177.81 531.44,161.58 540,149 C548.08,137.13 558.14,125.47 568.4,117.7 C577.3,110.96 587.15,106.45 596.9,103.5 C606.14,100.7 615.89,99.22 625.3,99.9Z" transform="translate(0,-1.9)" fill="none" stroke="#b7d2b0" stroke-width="5.6"/>
<path d="M625.3,99.9 C634.86,100.59 644.55,104.27 653.8,107.8 C663.22,111.4 673.09,115.72 681.3,121.4 C689.31,126.94 696.27,132.83 702.6,141.3 C710.42,151.76 718.3,167.61 722.5,181.1 C726.42,193.67 728.16,206.76 727.9,219.4 C727.64,231.86 726.51,246.84 721.1,256.4 C716.42,264.67 708.84,270.38 700,275 C689.31,280.59 675.07,282.51 660,284.8 C641.02,287.68 615.07,288.75 594.8,288.8 C577.08,288.85 557.97,290.36 545,286 C535.36,282.76 527.47,278.53 522.1,270.6 C515.23,260.45 512.81,240.27 512.6,226.4 C512.42,214.13 515.06,203.5 519,191.6 C523.57,177.81 531.44,161.58 540,149 C548.08,137.13 558.14,125.47 568.4,117.7 C577.3,110.96 587.15,106.45 596.9,103.5 C606.14,100.7 615.89,99.22 625.3,99.9Z" transform="translate(0,0)" fill="none" stroke="#b7d2b0" stroke-width="5.6"/>
<path d="M625.3,99.9 C634.86,100.59 644.55,104.27 653.8,107.8 C663.22,111.4 673.09,115.72 681.3,121.4 C689.31,126.94 696.27,132.83 702.6,141.3 C710.42,151.76 718.3,167.61 722.5,181.1 C726.42,193.67 728.16,206.76 727.9,219.4 C727.64,231.86 726.51,246.84 721.1,256.4 C716.42,264.67 708.84,270.38 700,275 C689.31,280.59 675.07,282.51 660,284.8 C641.02,287.68 615.07,288.75 594.8,288.8 C577.08,288.85 557.97,290.36 545,286 C535.36,282.76 527.47,278.53 522.1,270.6 C515.23,260.45 512.81,240.27 512.6,226.4 C512.42,214.13 515.06,203.5 519,191.6 C523.57,177.81 531.44,161.58 540,149 C548.08,137.13 558.14,125.47 568.4,117.7 C577.3,110.96 587.15,106.45 596.9,103.5 C606.14,100.7 615.89,99.22 625.3,99.9Z" transform="translate(0,1.9)" fill="none" stroke="#b7d2b0" stroke-width="5.6"/>
<path d="M118.0,1034.5 L114.1,1034.0 L110.6,1033.0 L107.3,1031.8 L104.3,1030.3 L101.7,1028.5 L99.3,1026.4 L97.2,1024.1 L95.3,1021.6 L93.8,1018.9 L92.4,1016.1 L91.3,1013.1 L90.5,1010.0 L89.9,1006.9 L89.5,1003.7 L89.3,1000.4 L89.4,997.1 L89.6,993.8 L90.0,990.5 L90.6,987.2 L91.4,983.9 L92.4,980.6 L93.5,977.4 L94.7,974.2 L96.2,971.0 L97.7,967.9 L99.4,964.9 L101.2,962.0 L103.1,959.1 L105.2,956.4 L107.3,953.7 L109.5,951.2 L111.9,948.8 L114.3,946.4 L116.8,944.2 L119.3,942.1 L122.0,940.1 L124.7,938.1 L127.5,936.3 L130.3,934.5 L133.2,932.8 L136.2,931.1 L139.1,929.6 L142.2,928.0 L145.3,926.6 L148.4,925.2 L151.5,923.8 L154.7,922.5 L157.9,921.2 L161.1,920.0 L164.3,918.8 L167.5,917.6 L170.7,916.4 L174.0,915.3 L177.2,914.1 L180.4,913.0 L183.6,911.9 L186.9,910.8 L190.1,909.7 L193.3,908.6 L196.5,907.6 L199.7,906.5 L202.9,905.5 L206.0,904.4 L209.2,903.4 L212.4,902.3 L215.6,901.3 L218.8,900.3 L222.0,899.3 L225.2,898.3 L228.3,897.3 L231.5,896.3 L234.7,895.3 L237.9,894.3 L241.1,893.4 L244.3,892.4 L247.5,891.4 L250.7,890.4 L253.9,889.5 L257.1,888.5 L260.3,887.6 L263.5,886.6 L266.7,885.7 L270.0,884.7 L273.2,883.8 L276.4,882.8 L279.7,881.9 L282.9,880.9 L286.2,879.9 L289.4,879.0 L292.7,878.0 L295.9,877.0 L299.1,876.0 L302.4,875.0 L305.6,874.0 L308.8,872.9 L312.0,871.9 L315.3,870.8 L318.5,869.7 L321.6,868.5 L324.8,867.4 L328.0,866.2 L331.1,865.0 L334.3,863.8 L337.4,862.5 L340.5,861.2 L343.6,859.8 L346.7,858.5 L349.7,857.1 L352.8,855.6 L355.8,854.1 L358.8,852.6 L361.8,851.0 L364.7,849.4 L367.6,847.7 L370.5,846.0 L373.4,844.2 L376.2,842.4 L379.0,840.5 L381.8,838.6 L384.6,836.6 L387.3,834.6 L390.0,832.6 L392.7,830.5 L395.4,828.4 L398.0,826.3 L400.7,824.1 L403.3,821.9 L405.9,819.7 L408.4,817.5 L411.0,815.2 L413.5,812.9 L416.0,810.7 L418.5,808.3 L421.0,806.0 L423.5,803.7 L426.0,801.4 L428.4,799.0 L430.9,796.7 L433.3,794.4 L435.7,792.0 L438.1,789.7 L440.5,787.4 L442.9,785.1 L445.3,782.8 L447.7,780.5 L450.0,778.2 L452.4,775.9 L454.8,773.7 L457.2,771.4 L459.5,769.2 L461.9,766.9 L464.3,764.7 L466.7,762.5 L469.1,760.2 L471.5,758.0 L474.0,755.8 L476.4,753.6 L478.9,751.4 L481.4,749.2 L483.9,747.0 L486.4,744.8 L488.9,742.6 L491.5,740.4 L494.1,738.2 L496.7,735.9 L499.4,733.7 L502.1,731.5 L504.8,729.3 L507.6,727.1 L510.3,725.0 L513.1,722.8 L516.0,720.7 L518.8,718.6 L521.7,716.5 L524.6,714.5 L527.5,712.6 L530.5,710.7 L533.5,708.8 L536.5,707.0 L539.5,705.3 L542.5,703.7 L545.6,702.1 L548.7,700.6 L551.8,699.3 L554.9,698.0 L558.0,696.8 L561.2,695.7 L564.3,694.8 L567.5,693.9 L570.7,693.1 L573.9,692.4 L577.1,691.9 L580.3,691.4 L583.6,691.0 L586.8,690.7 L590.0,690.5 L593.3,690.4 L596.5,690.4 L599.8,690.4 L603.1,690.6 L606.3,690.8 L609.6,691.1 L612.8,691.5 L616.1,691.9 L619.3,692.5 L622.6,693.1 L625.8,693.8 L629.0,694.5 L632.2,695.3 L635.5,696.2 L638.7,697.2 L641.8,698.2 L645.0,699.3 L648.2,700.4 L651.3,701.6 L654.5,702.9 L657.6,704.2 L660.7,705.6 L663.8,707.0 L666.8,708.4 L669.9,710.0 L672.9,711.5 L675.9,713.1 L678.8,714.8 L681.8,716.5 L684.7,718.2 L687.6,720.0 L690.5,721.8 L693.3,723.7 L696.1,725.6 L698.9,727.5 L701.7,729.4 L704.4,731.4 L707.1,733.4 L709.8,735.5 L712.5,737.6 L715.2,739.6 L717.8,741.8 L720.4,743.9 L723.0,746.1 L725.6,748.3 L728.2,750.5 L730.8,752.7 L733.3,755.0 L735.8,757.2 L738.4,759.5 L740.9,761.8 L743.4,764.1 L745.9,766.4 L748.4,768.7 L750.9,771.1 L753.3,773.4 L755.8,775.8 L758.3,778.1 L760.7,780.5 L763.2,782.8 L765.6,785.2 L768.1,787.5 L770.5,789.9 L773.0,792.2 L775.5,794.6 L777.9,796.9 L780.4,799.2 L782.8,801.6 L785.3,803.9 L787.8,806.2 L790.3,808.5 L792.8,810.7 L795.3,813.0 L797.8,815.3 L800.3,817.5 L802.8,819.7 L805.4,821.9 L807.9,824.1 L810.5,826.2 L813.1,828.3 L815.7,830.4 L818.3,832.5 L820.9,834.5 L823.5,836.6 L826.2,838.5 L828.9,840.5 L831.6,842.4 L834.3,844.3 L837.1,846.2 L839.8,848.0 L842.6,849.8 L845.5,851.5 L848.3,853.2 L851.2,854.9 L854.1,856.5 L857.0,858.0 L859.9,859.6 L862.9,861.1 L865.9,862.5 L868.9,863.9 L872.0,865.3 L875.1,866.6 L878.1,867.9 L881.3,869.2 L884.4,870.5 L887.5,871.7 L890.7,872.9 L893.9,874.1 L897.0,875.2 L900.3,876.3 L903.5,877.4 L906.7,878.5 L909.9,879.5 L913.2,880.6 L916.5,881.6 L919.7,882.6 L923.0,883.6 L926.3,884.6 L929.6,885.6 L932.9,886.5 L936.2,887.5 L939.4,888.5 L942.7,889.4 L946.0,890.3 L949.3,891.3 L952.6,892.2 L955.9,893.2 L959.2,894.1 L962.5,895.1 L965.8,896.0 L969.1,897.0 L972.3,898.0 L975.6,898.9 L978.9,899.9 L982.1,900.9 L985.3,902.0 L988.6,903.0 L991.8,904.0 L995.0,905.1 L998.1,906.2 L1001.3,907.3 L1004.5,908.4 L1007.6,909.5 L1010.8,910.7 L1013.9,911.9 L1017.0,913.1 L1020.1,914.3 L1023.2,915.5 L1026.3,916.8 L1029.4,918.1 L1032.4,919.4 L1035.5,920.7 L1038.6,922.1 L1041.6,923.4 L1044.6,924.8 L1047.7,926.3 L1050.7,927.7 L1053.7,929.2 L1056.7,930.7 L1059.7,932.2 L1062.7,933.7 L1065.7,935.3 L1068.7,936.9 L1071.6,938.5 L1074.6,940.2 L1077.6,941.9 L1080.5,943.6 L1083.4,945.4 L1086.3,947.3 L1089.1,949.2 L1091.9,951.2 L1094.5,953.3 L1097.1,955.5 L1099.6,957.8 L1101.9,960.2 L1104.1,962.8 L1106.2,965.4 L1108.2,968.1 L1110.0,971.0 L1111.6,973.9 L1113.0,976.8 L1114.3,979.9 L1115.4,983.0 L1116.3,986.2 L1117.0,989.4 L1117.5,992.6 L1117.7,995.9 L1117.7,999.3 L1117.5,1002.6 L1117.1,1005.9 L1116.4,1009.1 L1115.4,1012.3 L1114.2,1015.4 L1112.8,1018.3 L1111.1,1021.1 L1109.1,1023.8 L1106.9,1026.2 L1104.4,1028.4 L1101.7,1030.3 L1098.7,1031.8 L1095.4,1033.1 L1091.8,1034.0 L1088.0,1034.5 L118,1034.5 Z" fill="#b4bac7"/>
<path d="M118.0,1034.5 L114.1,1034.0 L110.6,1033.0 L107.3,1031.8 L104.3,1030.3 L101.7,1028.5 L99.3,1026.4 L97.2,1024.1 L95.3,1021.6 L93.8,1018.9 L92.4,1016.1 L91.3,1013.1 L90.5,1010.0 L89.9,1006.9 L89.5,1003.7 L89.3,1000.4 L89.4,997.1 L89.6,993.8 L90.0,990.5 L90.6,987.2 L91.4,983.9 L92.4,980.6 L93.5,977.4 L94.7,974.2 L96.2,971.0 L97.7,967.9 L99.4,964.9 L101.2,962.0 L103.1,959.1 L105.2,956.4 L107.3,953.7 L109.5,951.2 L111.9,948.8 L114.3,946.4 L116.8,944.2 L119.3,942.1 L122.0,940.1 L124.7,938.1 L127.5,936.3 L130.3,934.5 L133.2,932.8 L136.2,931.1 L139.1,929.6 L142.2,928.0 L145.3,926.6 L148.4,925.2 L151.5,923.8 L154.7,922.5 L157.9,921.2 L161.1,920.0 L164.3,918.8 L167.5,917.6 L170.7,916.4 L174.0,915.3 L177.2,914.1 L180.4,913.0 L183.6,911.9 L186.9,910.8 L190.1,909.7 L193.3,908.6 L196.5,907.6 L199.7,906.5 L202.9,905.5 L206.0,904.4 L209.2,903.4 L212.4,902.3 L215.6,901.3 L218.8,900.3 L222.0,899.3 L225.2,898.3 L228.3,897.3 L231.5,896.3 L234.7,895.3 L237.9,894.3 L241.1,893.4 L244.3,892.4 L247.5,891.4 L250.7,890.4 L253.9,889.5 L257.1,888.5 L260.3,887.6 L263.5,886.6 L266.7,885.7 L270.0,884.7 L273.2,883.8 L276.4,882.8 L279.7,881.9 L282.9,880.9 L286.2,879.9 L289.4,879.0 L292.7,878.0 L295.9,877.0 L299.1,876.0 L302.4,875.0 L305.6,874.0 L308.8,872.9 L312.0,871.9 L315.3,870.8 L318.5,869.7 L321.6,868.5 L324.8,867.4 L328.0,866.2 L331.1,865.0 L334.3,863.8 L337.4,862.5 L340.5,861.2 L343.6,859.8 L346.7,858.5 L349.7,857.1 L352.8,855.6 L355.8,854.1 L358.8,852.6 L361.8,851.0 L364.7,849.4 L367.6,847.7 L370.5,846.0 L373.4,844.2 L376.2,842.4 L379.0,840.5 L381.8,838.6 L384.6,836.6 L387.3,834.6 L390.0,832.6 L392.7,830.5 L395.4,828.4 L398.0,826.3 L400.7,824.1 L403.3,821.9 L405.9,819.7 L408.4,817.5 L411.0,815.2 L413.5,812.9 L416.0,810.7 L418.5,808.3 L421.0,806.0 L423.5,803.7 L426.0,801.4 L428.4,799.0 L430.9,796.7 L433.3,794.4 L435.7,792.0 L438.1,789.7 L440.5,787.4 L442.9,785.1 L445.3,782.8 L447.7,780.5 L450.0,778.2 L452.4,775.9 L454.8,773.7 L457.2,771.4 L459.5,769.2 L461.9,766.9 L464.3,764.7 L466.7,762.5 L469.1,760.2 L471.5,758.0 L474.0,755.8 L476.4,753.6 L478.9,751.4 L481.4,749.2 L483.9,747.0 L486.4,744.8 L488.9,742.6 L491.5,740.4 L494.1,738.2 L496.7,735.9 L499.4,733.7 L502.1,731.5 L504.8,729.3 L507.6,727.1 L510.3,725.0 L513.1,722.8 L516.0,720.7 L518.8,718.6 L521.7,716.5 L524.6,714.5 L527.5,712.6 L530.5,710.7 L533.5,708.8 L536.5,707.0 L539.5,705.3 L542.5,703.7 L545.6,702.1 L548.7,700.6 L551.8,699.3 L554.9,698.0 L558.0,696.8 L561.2,695.7 L564.3,694.8 L567.5,693.9 L570.7,693.1 L573.9,692.4 L577.1,691.9 L580.3,691.4 L583.6,691.0 L586.8,690.7 L590.0,690.5 L593.3,690.4 L596.5,690.4 L599.8,690.4 L603.1,690.6 L606.3,690.8 L609.6,691.1 L612.8,691.5 L616.1,691.9 L619.3,692.5 L622.6,693.1 L625.8,693.8 L629.0,694.5 L632.2,695.3 L635.5,696.2 L638.7,697.2 L641.8,698.2 L645.0,699.3 L648.2,700.4 L651.3,701.6 L654.5,702.9 L657.6,704.2 L660.7,705.6 L663.8,707.0 L666.8,708.4 L669.9,710.0 L672.9,711.5 L675.9,713.1 L678.8,714.8 L681.8,716.5 L684.7,718.2 L687.6,720.0 L690.5,721.8 L693.3,723.7 L696.1,725.6 L698.9,727.5 L701.7,729.4 L704.4,731.4 L707.1,733.4 L709.8,735.5 L712.5,737.6 L715.2,739.6 L717.8,741.8 L720.4,743.9 L723.0,746.1 L725.6,748.3 L728.2,750.5 L730.8,752.7 L733.3,755.0 L735.8,757.2 L738.4,759.5 L740.9,761.8 L743.4,764.1 L745.9,766.4 L748.4,768.7 L750.9,771.1 L753.3,773.4 L755.8,775.8 L758.3,778.1 L760.7,780.5 L763.2,782.8 L765.6,785.2 L768.1,787.5 L770.5,789.9 L773.0,792.2 L775.5,794.6 L777.9,796.9 L780.4,799.2 L782.8,801.6 L785.3,803.9 L787.8,806.2 L790.3,808.5 L792.8,810.7 L795.3,813.0 L797.8,815.3 L800.3,817.5 L802.8,819.7 L805.4,821.9 L807.9,824.1 L810.5,826.2 L813.1,828.3 L815.7,830.4 L818.3,832.5 L820.9,834.5 L823.5,836.6 L826.2,838.5 L828.9,840.5 L831.6,842.4 L834.3,844.3 L837.1,846.2 L839.8,848.0 L842.6,849.8 L845.5,851.5 L848.3,853.2 L851.2,854.9 L854.1,856.5 L857.0,858.0 L859.9,859.6 L862.9,861.1 L865.9,862.5 L868.9,863.9 L872.0,865.3 L875.1,866.6 L878.1,867.9 L881.3,869.2 L884.4,870.5 L887.5,871.7 L890.7,872.9 L893.9,874.1 L897.0,875.2 L900.3,876.3 L903.5,877.4 L906.7,878.5 L909.9,879.5 L913.2,880.6 L916.5,881.6 L919.7,882.6 L923.0,883.6 L926.3,884.6 L929.6,885.6 L932.9,886.5 L936.2,887.5 L939.4,888.5 L942.7,889.4 L946.0,890.3 L949.3,891.3 L952.6,892.2 L955.9,893.2 L959.2,894.1 L962.5,895.1 L965.8,896.0 L969.1,897.0 L972.3,898.0 L975.6,898.9 L978.9,899.9 L982.1,900.9 L985.3,902.0 L988.6,903.0 L991.8,904.0 L995.0,905.1 L998.1,906.2 L1001.3,907.3 L1004.5,908.4 L1007.6,909.5 L1010.8,910.7 L1013.9,911.9 L1017.0,913.1 L1020.1,914.3 L1023.2,915.5 L1026.3,916.8 L1029.4,918.1 L1032.4,919.4 L1035.5,920.7 L1038.6,922.1 L1041.6,923.4 L1044.6,924.8 L1047.7,926.3 L1050.7,927.7 L1053.7,929.2 L1056.7,930.7 L1059.7,932.2 L1062.7,933.7 L1065.7,935.3 L1068.7,936.9 L1071.6,938.5 L1074.6,940.2 L1077.6,941.9 L1080.5,943.6 L1083.4,945.4 L1086.3,947.3 L1089.1,949.2 L1091.9,951.2 L1094.5,953.3 L1097.1,955.5 L1099.6,957.8 L1101.9,960.2 L1104.1,962.8 L1106.2,965.4 L1108.2,968.1 L1110.0,971.0 L1111.6,973.9 L1113.0,976.8 L1114.3,979.9 L1115.4,983.0 L1116.3,986.2 L1117.0,989.4 L1117.5,992.6 L1117.7,995.9 L1117.7,999.3 L1117.5,1002.6 L1117.1,1005.9 L1116.4,1009.1 L1115.4,1012.3 L1114.2,1015.4 L1112.8,1018.3 L1111.1,1021.1 L1109.1,1023.8 L1106.9,1026.2 L1104.4,1028.4 L1101.7,1030.3 L1098.7,1031.8 L1095.4,1033.1 L1091.8,1034.0 L1088.0,1034.5 L118,1034.5 Z" transform="translate(0,-2.2)" fill="none" stroke="#878ca3" stroke-width="5.6" stroke-linejoin="round"/>
<path d="M118.0,1034.5 L114.1,1034.0 L110.6,1033.0 L107.3,1031.8 L104.3,1030.3 L101.7,1028.5 L99.3,1026.4 L97.2,1024.1 L95.3,1021.6 L93.8,1018.9 L92.4,1016.1 L91.3,1013.1 L90.5,1010.0 L89.9,1006.9 L89.5,1003.7 L89.3,1000.4 L89.4,997.1 L89.6,993.8 L90.0,990.5 L90.6,987.2 L91.4,983.9 L92.4,980.6 L93.5,977.4 L94.7,974.2 L96.2,971.0 L97.7,967.9 L99.4,964.9 L101.2,962.0 L103.1,959.1 L105.2,956.4 L107.3,953.7 L109.5,951.2 L111.9,948.8 L114.3,946.4 L116.8,944.2 L119.3,942.1 L122.0,940.1 L124.7,938.1 L127.5,936.3 L130.3,934.5 L133.2,932.8 L136.2,931.1 L139.1,929.6 L142.2,928.0 L145.3,926.6 L148.4,925.2 L151.5,923.8 L154.7,922.5 L157.9,921.2 L161.1,920.0 L164.3,918.8 L167.5,917.6 L170.7,916.4 L174.0,915.3 L177.2,914.1 L180.4,913.0 L183.6,911.9 L186.9,910.8 L190.1,909.7 L193.3,908.6 L196.5,907.6 L199.7,906.5 L202.9,905.5 L206.0,904.4 L209.2,903.4 L212.4,902.3 L215.6,901.3 L218.8,900.3 L222.0,899.3 L225.2,898.3 L228.3,897.3 L231.5,896.3 L234.7,895.3 L237.9,894.3 L241.1,893.4 L244.3,892.4 L247.5,891.4 L250.7,890.4 L253.9,889.5 L257.1,888.5 L260.3,887.6 L263.5,886.6 L266.7,885.7 L270.0,884.7 L273.2,883.8 L276.4,882.8 L279.7,881.9 L282.9,880.9 L286.2,879.9 L289.4,879.0 L292.7,878.0 L295.9,877.0 L299.1,876.0 L302.4,875.0 L305.6,874.0 L308.8,872.9 L312.0,871.9 L315.3,870.8 L318.5,869.7 L321.6,868.5 L324.8,867.4 L328.0,866.2 L331.1,865.0 L334.3,863.8 L337.4,862.5 L340.5,861.2 L343.6,859.8 L346.7,858.5 L349.7,857.1 L352.8,855.6 L355.8,854.1 L358.8,852.6 L361.8,851.0 L364.7,849.4 L367.6,847.7 L370.5,846.0 L373.4,844.2 L376.2,842.4 L379.0,840.5 L381.8,838.6 L384.6,836.6 L387.3,834.6 L390.0,832.6 L392.7,830.5 L395.4,828.4 L398.0,826.3 L400.7,824.1 L403.3,821.9 L405.9,819.7 L408.4,817.5 L411.0,815.2 L413.5,812.9 L416.0,810.7 L418.5,808.3 L421.0,806.0 L423.5,803.7 L426.0,801.4 L428.4,799.0 L430.9,796.7 L433.3,794.4 L435.7,792.0 L438.1,789.7 L440.5,787.4 L442.9,785.1 L445.3,782.8 L447.7,780.5 L450.0,778.2 L452.4,775.9 L454.8,773.7 L457.2,771.4 L459.5,769.2 L461.9,766.9 L464.3,764.7 L466.7,762.5 L469.1,760.2 L471.5,758.0 L474.0,755.8 L476.4,753.6 L478.9,751.4 L481.4,749.2 L483.9,747.0 L486.4,744.8 L488.9,742.6 L491.5,740.4 L494.1,738.2 L496.7,735.9 L499.4,733.7 L502.1,731.5 L504.8,729.3 L507.6,727.1 L510.3,725.0 L513.1,722.8 L516.0,720.7 L518.8,718.6 L521.7,716.5 L524.6,714.5 L527.5,712.6 L530.5,710.7 L533.5,708.8 L536.5,707.0 L539.5,705.3 L542.5,703.7 L545.6,702.1 L548.7,700.6 L551.8,699.3 L554.9,698.0 L558.0,696.8 L561.2,695.7 L564.3,694.8 L567.5,693.9 L570.7,693.1 L573.9,692.4 L577.1,691.9 L580.3,691.4 L583.6,691.0 L586.8,690.7 L590.0,690.5 L593.3,690.4 L596.5,690.4 L599.8,690.4 L603.1,690.6 L606.3,690.8 L609.6,691.1 L612.8,691.5 L616.1,691.9 L619.3,692.5 L622.6,693.1 L625.8,693.8 L629.0,694.5 L632.2,695.3 L635.5,696.2 L638.7,697.2 L641.8,698.2 L645.0,699.3 L648.2,700.4 L651.3,701.6 L654.5,702.9 L657.6,704.2 L660.7,705.6 L663.8,707.0 L666.8,708.4 L669.9,710.0 L672.9,711.5 L675.9,713.1 L678.8,714.8 L681.8,716.5 L684.7,718.2 L687.6,720.0 L690.5,721.8 L693.3,723.7 L696.1,725.6 L698.9,727.5 L701.7,729.4 L704.4,731.4 L707.1,733.4 L709.8,735.5 L712.5,737.6 L715.2,739.6 L717.8,741.8 L720.4,743.9 L723.0,746.1 L725.6,748.3 L728.2,750.5 L730.8,752.7 L733.3,755.0 L735.8,757.2 L738.4,759.5 L740.9,761.8 L743.4,764.1 L745.9,766.4 L748.4,768.7 L750.9,771.1 L753.3,773.4 L755.8,775.8 L758.3,778.1 L760.7,780.5 L763.2,782.8 L765.6,785.2 L768.1,787.5 L770.5,789.9 L773.0,792.2 L775.5,794.6 L777.9,796.9 L780.4,799.2 L782.8,801.6 L785.3,803.9 L787.8,806.2 L790.3,808.5 L792.8,810.7 L795.3,813.0 L797.8,815.3 L800.3,817.5 L802.8,819.7 L805.4,821.9 L807.9,824.1 L810.5,826.2 L813.1,828.3 L815.7,830.4 L818.3,832.5 L820.9,834.5 L823.5,836.6 L826.2,838.5 L828.9,840.5 L831.6,842.4 L834.3,844.3 L837.1,846.2 L839.8,848.0 L842.6,849.8 L845.5,851.5 L848.3,853.2 L851.2,854.9 L854.1,856.5 L857.0,858.0 L859.9,859.6 L862.9,861.1 L865.9,862.5 L868.9,863.9 L872.0,865.3 L875.1,866.6 L878.1,867.9 L881.3,869.2 L884.4,870.5 L887.5,871.7 L890.7,872.9 L893.9,874.1 L897.0,875.2 L900.3,876.3 L903.5,877.4 L906.7,878.5 L909.9,879.5 L913.2,880.6 L916.5,881.6 L919.7,882.6 L923.0,883.6 L926.3,884.6 L929.6,885.6 L932.9,886.5 L936.2,887.5 L939.4,888.5 L942.7,889.4 L946.0,890.3 L949.3,891.3 L952.6,892.2 L955.9,893.2 L959.2,894.1 L962.5,895.1 L965.8,896.0 L969.1,897.0 L972.3,898.0 L975.6,898.9 L978.9,899.9 L982.1,900.9 L985.3,902.0 L988.6,903.0 L991.8,904.0 L995.0,905.1 L998.1,906.2 L1001.3,907.3 L1004.5,908.4 L1007.6,909.5 L1010.8,910.7 L1013.9,911.9 L1017.0,913.1 L1020.1,914.3 L1023.2,915.5 L1026.3,916.8 L1029.4,918.1 L1032.4,919.4 L1035.5,920.7 L1038.6,922.1 L1041.6,923.4 L1044.6,924.8 L1047.7,926.3 L1050.7,927.7 L1053.7,929.2 L1056.7,930.7 L1059.7,932.2 L1062.7,933.7 L1065.7,935.3 L1068.7,936.9 L1071.6,938.5 L1074.6,940.2 L1077.6,941.9 L1080.5,943.6 L1083.4,945.4 L1086.3,947.3 L1089.1,949.2 L1091.9,951.2 L1094.5,953.3 L1097.1,955.5 L1099.6,957.8 L1101.9,960.2 L1104.1,962.8 L1106.2,965.4 L1108.2,968.1 L1110.0,971.0 L1111.6,973.9 L1113.0,976.8 L1114.3,979.9 L1115.4,983.0 L1116.3,986.2 L1117.0,989.4 L1117.5,992.6 L1117.7,995.9 L1117.7,999.3 L1117.5,1002.6 L1117.1,1005.9 L1116.4,1009.1 L1115.4,1012.3 L1114.2,1015.4 L1112.8,1018.3 L1111.1,1021.1 L1109.1,1023.8 L1106.9,1026.2 L1104.4,1028.4 L1101.7,1030.3 L1098.7,1031.8 L1095.4,1033.1 L1091.8,1034.0 L1088.0,1034.5 L118,1034.5 Z" transform="translate(0,0)" fill="none" stroke="#878ca3" stroke-width="5.6" stroke-linejoin="round"/>
<path d="M118.0,1034.5 L114.1,1034.0 L110.6,1033.0 L107.3,1031.8 L104.3,1030.3 L101.7,1028.5 L99.3,1026.4 L97.2,1024.1 L95.3,1021.6 L93.8,1018.9 L92.4,1016.1 L91.3,1013.1 L90.5,1010.0 L89.9,1006.9 L89.5,1003.7 L89.3,1000.4 L89.4,997.1 L89.6,993.8 L90.0,990.5 L90.6,987.2 L91.4,983.9 L92.4,980.6 L93.5,977.4 L94.7,974.2 L96.2,971.0 L97.7,967.9 L99.4,964.9 L101.2,962.0 L103.1,959.1 L105.2,956.4 L107.3,953.7 L109.5,951.2 L111.9,948.8 L114.3,946.4 L116.8,944.2 L119.3,942.1 L122.0,940.1 L124.7,938.1 L127.5,936.3 L130.3,934.5 L133.2,932.8 L136.2,931.1 L139.1,929.6 L142.2,928.0 L145.3,926.6 L148.4,925.2 L151.5,923.8 L154.7,922.5 L157.9,921.2 L161.1,920.0 L164.3,918.8 L167.5,917.6 L170.7,916.4 L174.0,915.3 L177.2,914.1 L180.4,913.0 L183.6,911.9 L186.9,910.8 L190.1,909.7 L193.3,908.6 L196.5,907.6 L199.7,906.5 L202.9,905.5 L206.0,904.4 L209.2,903.4 L212.4,902.3 L215.6,901.3 L218.8,900.3 L222.0,899.3 L225.2,898.3 L228.3,897.3 L231.5,896.3 L234.7,895.3 L237.9,894.3 L241.1,893.4 L244.3,892.4 L247.5,891.4 L250.7,890.4 L253.9,889.5 L257.1,888.5 L260.3,887.6 L263.5,886.6 L266.7,885.7 L270.0,884.7 L273.2,883.8 L276.4,882.8 L279.7,881.9 L282.9,880.9 L286.2,879.9 L289.4,879.0 L292.7,878.0 L295.9,877.0 L299.1,876.0 L302.4,875.0 L305.6,874.0 L308.8,872.9 L312.0,871.9 L315.3,870.8 L318.5,869.7 L321.6,868.5 L324.8,867.4 L328.0,866.2 L331.1,865.0 L334.3,863.8 L337.4,862.5 L340.5,861.2 L343.6,859.8 L346.7,858.5 L349.7,857.1 L352.8,855.6 L355.8,854.1 L358.8,852.6 L361.8,851.0 L364.7,849.4 L367.6,847.7 L370.5,846.0 L373.4,844.2 L376.2,842.4 L379.0,840.5 L381.8,838.6 L384.6,836.6 L387.3,834.6 L390.0,832.6 L392.7,830.5 L395.4,828.4 L398.0,826.3 L400.7,824.1 L403.3,821.9 L405.9,819.7 L408.4,817.5 L411.0,815.2 L413.5,812.9 L416.0,810.7 L418.5,808.3 L421.0,806.0 L423.5,803.7 L426.0,801.4 L428.4,799.0 L430.9,796.7 L433.3,794.4 L435.7,792.0 L438.1,789.7 L440.5,787.4 L442.9,785.1 L445.3,782.8 L447.7,780.5 L450.0,778.2 L452.4,775.9 L454.8,773.7 L457.2,771.4 L459.5,769.2 L461.9,766.9 L464.3,764.7 L466.7,762.5 L469.1,760.2 L471.5,758.0 L474.0,755.8 L476.4,753.6 L478.9,751.4 L481.4,749.2 L483.9,747.0 L486.4,744.8 L488.9,742.6 L491.5,740.4 L494.1,738.2 L496.7,735.9 L499.4,733.7 L502.1,731.5 L504.8,729.3 L507.6,727.1 L510.3,725.0 L513.1,722.8 L516.0,720.7 L518.8,718.6 L521.7,716.5 L524.6,714.5 L527.5,712.6 L530.5,710.7 L533.5,708.8 L536.5,707.0 L539.5,705.3 L542.5,703.7 L545.6,702.1 L548.7,700.6 L551.8,699.3 L554.9,698.0 L558.0,696.8 L561.2,695.7 L564.3,694.8 L567.5,693.9 L570.7,693.1 L573.9,692.4 L577.1,691.9 L580.3,691.4 L583.6,691.0 L586.8,690.7 L590.0,690.5 L593.3,690.4 L596.5,690.4 L599.8,690.4 L603.1,690.6 L606.3,690.8 L609.6,691.1 L612.8,691.5 L616.1,691.9 L619.3,692.5 L622.6,693.1 L625.8,693.8 L629.0,694.5 L632.2,695.3 L635.5,696.2 L638.7,697.2 L641.8,698.2 L645.0,699.3 L648.2,700.4 L651.3,701.6 L654.5,702.9 L657.6,704.2 L660.7,705.6 L663.8,707.0 L666.8,708.4 L669.9,710.0 L672.9,711.5 L675.9,713.1 L678.8,714.8 L681.8,716.5 L684.7,718.2 L687.6,720.0 L690.5,721.8 L693.3,723.7 L696.1,725.6 L698.9,727.5 L701.7,729.4 L704.4,731.4 L707.1,733.4 L709.8,735.5 L712.5,737.6 L715.2,739.6 L717.8,741.8 L720.4,743.9 L723.0,746.1 L725.6,748.3 L728.2,750.5 L730.8,752.7 L733.3,755.0 L735.8,757.2 L738.4,759.5 L740.9,761.8 L743.4,764.1 L745.9,766.4 L748.4,768.7 L750.9,771.1 L753.3,773.4 L755.8,775.8 L758.3,778.1 L760.7,780.5 L763.2,782.8 L765.6,785.2 L768.1,787.5 L770.5,789.9 L773.0,792.2 L775.5,794.6 L777.9,796.9 L780.4,799.2 L782.8,801.6 L785.3,803.9 L787.8,806.2 L790.3,808.5 L792.8,810.7 L795.3,813.0 L797.8,815.3 L800.3,817.5 L802.8,819.7 L805.4,821.9 L807.9,824.1 L810.5,826.2 L813.1,828.3 L815.7,830.4 L818.3,832.5 L820.9,834.5 L823.5,836.6 L826.2,838.5 L828.9,840.5 L831.6,842.4 L834.3,844.3 L837.1,846.2 L839.8,848.0 L842.6,849.8 L845.5,851.5 L848.3,853.2 L851.2,854.9 L854.1,856.5 L857.0,858.0 L859.9,859.6 L862.9,861.1 L865.9,862.5 L868.9,863.9 L872.0,865.3 L875.1,866.6 L878.1,867.9 L881.3,869.2 L884.4,870.5 L887.5,871.7 L890.7,872.9 L893.9,874.1 L897.0,875.2 L900.3,876.3 L903.5,877.4 L906.7,878.5 L909.9,879.5 L913.2,880.6 L916.5,881.6 L919.7,882.6 L923.0,883.6 L926.3,884.6 L929.6,885.6 L932.9,886.5 L936.2,887.5 L939.4,888.5 L942.7,889.4 L946.0,890.3 L949.3,891.3 L952.6,892.2 L955.9,893.2 L959.2,894.1 L962.5,895.1 L965.8,896.0 L969.1,897.0 L972.3,898.0 L975.6,898.9 L978.9,899.9 L982.1,900.9 L985.3,902.0 L988.6,903.0 L991.8,904.0 L995.0,905.1 L998.1,906.2 L1001.3,907.3 L1004.5,908.4 L1007.6,909.5 L1010.8,910.7 L1013.9,911.9 L1017.0,913.1 L1020.1,914.3 L1023.2,915.5 L1026.3,916.8 L1029.4,918.1 L1032.4,919.4 L1035.5,920.7 L1038.6,922.1 L1041.6,923.4 L1044.6,924.8 L1047.7,926.3 L1050.7,927.7 L1053.7,929.2 L1056.7,930.7 L1059.7,932.2 L1062.7,933.7 L1065.7,935.3 L1068.7,936.9 L1071.6,938.5 L1074.6,940.2 L1077.6,941.9 L1080.5,943.6 L1083.4,945.4 L1086.3,947.3 L1089.1,949.2 L1091.9,951.2 L1094.5,953.3 L1097.1,955.5 L1099.6,957.8 L1101.9,960.2 L1104.1,962.8 L1106.2,965.4 L1108.2,968.1 L1110.0,971.0 L1111.6,973.9 L1113.0,976.8 L1114.3,979.9 L1115.4,983.0 L1116.3,986.2 L1117.0,989.4 L1117.5,992.6 L1117.7,995.9 L1117.7,999.3 L1117.5,1002.6 L1117.1,1005.9 L1116.4,1009.1 L1115.4,1012.3 L1114.2,1015.4 L1112.8,1018.3 L1111.1,1021.1 L1109.1,1023.8 L1106.9,1026.2 L1104.4,1028.4 L1101.7,1030.3 L1098.7,1031.8 L1095.4,1033.1 L1091.8,1034.0 L1088.0,1034.5 L118,1034.5 Z" transform="translate(0,2.2)" fill="none" stroke="#878ca3" stroke-width="5.6" stroke-linejoin="round"/>
<path d="M625.3,731.4 C634.86,732.09 644.55,735.77 653.8,739.3 C663.22,742.9 673.09,747.22 681.3,752.9 C689.31,758.44 696.27,764.33 702.6,772.8 C710.42,783.26 718.3,799.11 722.5,812.6 C726.42,825.17 728.16,838.26 727.9,850.9 C727.64,863.36 726.51,878.34 721.1,887.9 C716.42,896.17 708.84,901.88 700,906.5 C689.31,912.09 675.07,914.01 660,916.3 C641.02,919.18 615.07,920.25 594.8,920.3 C577.08,920.35 557.97,921.86 545,917.5 C535.36,914.26 527.47,910.03 522.1,902.1 C515.23,891.95 512.81,871.77 512.6,857.9 C512.42,845.63 515.06,835 519,823.1 C523.57,809.31 531.44,793.08 540,780.5 C548.08,768.63 558.14,756.97 568.4,749.2 C577.3,742.46 587.15,737.95 596.9,735 C606.14,732.2 615.89,730.72 625.3,731.4Z" fill="#9fa8b3"/>
<path d="M625.3,731.4 C634.86,732.09 644.55,735.77 653.8,739.3 C663.22,742.9 673.09,747.22 681.3,752.9 C689.31,758.44 696.27,764.33 702.6,772.8 C710.42,783.26 718.3,799.11 722.5,812.6 C726.42,825.17 728.16,838.26 727.9,850.9 C727.64,863.36 726.51,878.34 721.1,887.9 C716.42,896.17 708.84,901.88 700,906.5 C689.31,912.09 675.07,914.01 660,916.3 C641.02,919.18 615.07,920.25 594.8,920.3 C577.08,920.35 557.97,921.86 545,917.5 C535.36,914.26 527.47,910.03 522.1,902.1 C515.23,891.95 512.81,871.77 512.6,857.9 C512.42,845.63 515.06,835 519,823.1 C523.57,809.31 531.44,793.08 540,780.5 C548.08,768.63 558.14,756.97 568.4,749.2 C577.3,742.46 587.15,737.95 596.9,735 C606.14,732.2 615.89,730.72 625.3,731.4Z" transform="translate(0,-1.9)" fill="none" stroke="#939aa6" stroke-width="5.6"/>
<path d="M625.3,731.4 C634.86,732.09 644.55,735.77 653.8,739.3 C663.22,742.9 673.09,747.22 681.3,752.9 C689.31,758.44 696.27,764.33 702.6,772.8 C710.42,783.26 718.3,799.11 722.5,812.6 C726.42,825.17 728.16,838.26 727.9,850.9 C727.64,863.36 726.51,878.34 721.1,887.9 C716.42,896.17 708.84,901.88 700,906.5 C689.31,912.09 675.07,914.01 660,916.3 C641.02,919.18 615.07,920.25 594.8,920.3 C577.08,920.35 557.97,921.86 545,917.5 C535.36,914.26 527.47,910.03 522.1,902.1 C515.23,891.95 512.81,871.77 512.6,857.9 C512.42,845.63 515.06,835 519,823.1 C523.57,809.31 531.44,793.08 540,780.5 C548.08,768.63 558.14,756.97 568.4,749.2 C577.3,742.46 587.15,737.95 596.9,735 C606.14,732.2 615.89,730.72 625.3,731.4Z" transform="translate(0,0)" fill="none" stroke="#939aa6" stroke-width="5.6"/>
<path d="M625.3,731.4 C634.86,732.09 644.55,735.77 653.8,739.3 C663.22,742.9 673.09,747.22 681.3,752.9 C689.31,758.44 696.27,764.33 702.6,772.8 C710.42,783.26 718.3,799.11 722.5,812.6 C726.42,825.17 728.16,838.26 727.9,850.9 C727.64,863.36 726.51,878.34 721.1,887.9 C716.42,896.17 708.84,901.88 700,906.5 C689.31,912.09 675.07,914.01 660,916.3 C641.02,919.18 615.07,920.25 594.8,920.3 C577.08,920.35 557.97,921.86 545,917.5 C535.36,914.26 527.47,910.03 522.1,902.1 C515.23,891.95 512.81,871.77 512.6,857.9 C512.42,845.63 515.06,835 519,823.1 C523.57,809.31 531.44,793.08 540,780.5 C548.08,768.63 558.14,756.97 568.4,749.2 C577.3,742.46 587.15,737.95 596.9,735 C606.14,732.2 615.89,730.72 625.3,731.4Z" transform="translate(0,1.9)" fill="none" stroke="#939aa6" stroke-width="5.6"/>
<rect x="199.9" y="383" width="2" height="20" fill="#a5203f"/>
<rect x="196.4" y="392.8" width="9" height="5.2" rx="1" fill="#e0874f"/>
<rect x="196.4" y="402" width="9" height="29.5" rx="1" fill="#eb8fa3"/>
<line x1="196.4" x2="205.4" y1="407" y2="407" stroke="#d46f88" stroke-width="0.6"/>
<line x1="196.4" x2="205.4" y1="412" y2="412" stroke="#d46f88" stroke-width="0.6"/>
<line x1="196.4" x2="205.4" y1="417" y2="417" stroke="#d46f88" stroke-width="0.6"/>
<line x1="196.4" x2="205.4" y1="422" y2="422" stroke="#d46f88" stroke-width="0.6"/>
<line x1="196.4" x2="205.4" y1="427" y2="427" stroke="#d46f88" stroke-width="0.6"/>
<rect x="213" y="406" width="2.2" height="61" rx="1" fill="#1d5e47"/>
<rect x="209.1" y="410.3" width="10" height="3.8" rx="1.9" fill="#3a9a8c"/>
<rect x="209.1" y="417" width="10" height="4.8" rx="1" fill="#1c6aa0"/>
<rect x="209.1" y="421.7" width="10" height="15.2" rx="1" fill="#4e9b5b"/>
<line x1="209.1" x2="219.1" y1="425.5" y2="425.5" stroke="#3a7a45" stroke-width="0.6"/>
<line x1="209.1" x2="219.1" y1="429.3" y2="429.3" stroke="#3a7a45" stroke-width="0.6"/>
<line x1="209.1" x2="219.1" y1="433.1" y2="433.1" stroke="#3a7a45" stroke-width="0.6"/>
<rect x="561.5" y="383" width="2" height="20" fill="#a5203f"/>
<rect x="558" y="392.8" width="9" height="5.2" rx="1" fill="#e0874f"/>
<rect x="558" y="402" width="9" height="29.5" rx="1" fill="#eb8fa3"/>
<line x1="558" x2="567" y1="407" y2="407" stroke="#d46f88" stroke-width="0.6"/>
<line x1="558" x2="567" y1="412" y2="412" stroke="#d46f88" stroke-width="0.6"/>
<line x1="558" x2="567" y1="417" y2="417" stroke="#d46f88" stroke-width="0.6"/>
<line x1="558" x2="567" y1="422" y2="422" stroke="#d46f88" stroke-width="0.6"/>
<line x1="558" x2="567" y1="427" y2="427" stroke="#d46f88" stroke-width="0.6"/>
<rect x="574.8" y="407.8" width="2.2" height="59.9" rx="1" fill="#1d5e47"/>
<rect x="570.9" y="412.1" width="10" height="3.8" rx="1.9" fill="#3a9a8c"/>
<rect x="570.9" y="418.8" width="10" height="4.8" rx="1" fill="#1c6aa0"/>
<rect x="570.9" y="423.5" width="10" height="15.2" rx="1" fill="#4e9b5b"/>
<line x1="570.9" x2="580.9" y1="427.3" y2="427.3" stroke="#3a7a45" stroke-width="0.6"/>
<line x1="570.9" x2="580.9" y1="431.1" y2="431.1" stroke="#3a7a45" stroke-width="0.6"/>
<line x1="570.9" x2="580.9" y1="434.9" y2="434.9" stroke="#3a7a45" stroke-width="0.6"/>
<rect x="854.3" y="383" width="2" height="20" fill="#a5203f"/>
<rect x="850.8" y="392.8" width="9" height="5.2" rx="1" fill="#e0874f"/>
<rect x="850.8" y="402" width="9" height="29.5" rx="1" fill="#eb8fa3"/>
<line x1="850.8" x2="859.8" y1="407" y2="407" stroke="#d46f88" stroke-width="0.6"/>
<line x1="850.8" x2="859.8" y1="412" y2="412" stroke="#d46f88" stroke-width="0.6"/>
<line x1="850.8" x2="859.8" y1="417" y2="417" stroke="#d46f88" stroke-width="0.6"/>
<line x1="850.8" x2="859.8" y1="422" y2="422" stroke="#d46f88" stroke-width="0.6"/>
<line x1="850.8" x2="859.8" y1="427" y2="427" stroke="#d46f88" stroke-width="0.6"/>
<rect x="865.8" y="407.8" width="2.2" height="59.9" rx="1" fill="#1d5e47"/>
<rect x="861.9" y="412.1" width="10" height="3.8" rx="1.9" fill="#3a9a8c"/>
<rect x="861.9" y="418.8" width="10" height="4.8" rx="1" fill="#1c6aa0"/>
<rect x="861.9" y="423.5" width="10" height="15.2" rx="1" fill="#4e9b5b"/>
<line x1="861.9" x2="871.9" y1="427.3" y2="427.3" stroke="#3a7a45" stroke-width="0.6"/>
<line x1="861.9" x2="871.9" y1="431.1" y2="431.1" stroke="#3a7a45" stroke-width="0.6"/>
<line x1="861.9" x2="871.9" y1="434.9" y2="434.9" stroke="#3a7a45" stroke-width="0.6"/>
<g transform="translate(757,141.5) rotate(46)"><path d="M-15,8.25 C-15.5,12.75 -9.5,12.75 -10,8.25 M-10,-8.25 C-10.5,-12.75 -4.5,-12.75 -5,-8.25 M-5,8.25 C-5.5,12.75 0.5,12.75 0,8.25 M0,-8.25 C-0.5,-12.75 5.5,-12.75 5,-8.25 M5,8.25 C4.5,12.75 10.5,12.75 10,8.25 M10,-8.25 C9.5,-12.75 15.5,-12.75 15,-8.25 M-15,-8.25 C-15,-12.25 -16,-14.25 -13,-15.25 C-10,-16.25 -9,-13.25 -5,-14.25 M15,8.25 C15,12.25 16,14.25 13,15.25 C10,16.25 9,13.25 5,14.25" fill="none" stroke="#2c4a9a" stroke-width="1"/><rect x="-16.35" y="-8.25" width="2.7" height="16.5" rx="1.3" fill="#3e4d1c" stroke="#2c3512" stroke-width="0.4"/><rect x="-11.35" y="-8.25" width="2.7" height="16.5" rx="1.3" fill="#3e4d1c" stroke="#2c3512" stroke-width="0.4"/><rect x="-6.35" y="-8.25" width="2.7" height="16.5" rx="1.3" fill="#3e4d1c" stroke="#2c3512" stroke-width="0.4"/><rect x="-1.35" y="-8.25" width="2.7" height="16.5" rx="1.3" fill="#3e4d1c" stroke="#2c3512" stroke-width="0.4"/><rect x="3.65" y="-8.25" width="2.7" height="16.5" rx="1.3" fill="#3e4d1c" stroke="#2c3512" stroke-width="0.4"/><rect x="8.65" y="-8.25" width="2.7" height="16.5" rx="1.3" fill="#3e4d1c" stroke="#2c3512" stroke-width="0.4"/><rect x="13.65" y="-8.25" width="2.7" height="16.5" rx="1.3" fill="#3e4d1c" stroke="#2c3512" stroke-width="0.4"/></g>
<g transform="translate(798.7,211.8) rotate(-58.52) scale(1)"><line x1="0" y1="0" x2="26" y2="0" stroke="#0f3a50" stroke-width="2"/><ellipse cx="31" cy="0" rx="6.5" ry="3.6" fill="#1f6e9e"/><ellipse cx="43.5" cy="0" rx="7" ry="3.8" fill="#1f6e9e"/><rect x="49" y="-4.6" width="2.6" height="9.2" rx="1" fill="#1f6e9e"/><ellipse cx="56.5" cy="0" rx="5" ry="4" fill="#1f6e9e"/><ellipse cx="68" cy="0" rx="7.2" ry="6.5" fill="#1f6e9e"/></g>
<g transform="translate(873.6,249.8) rotate(-56.33) scale(0.99)"><line x1="0" y1="0" x2="26" y2="0" stroke="#7a1a1a" stroke-width="2"/><ellipse cx="31" cy="0" rx="6.5" ry="3.6" fill="#c94c4c"/><ellipse cx="43.5" cy="0" rx="7" ry="3.8" fill="#c94c4c"/><rect x="49" y="-4.6" width="2.6" height="9.2" rx="1" fill="#c94c4c"/><ellipse cx="56.5" cy="0" rx="5" ry="4" fill="#c94c4c"/><ellipse cx="68" cy="0" rx="7.2" ry="6.5" fill="#c94c4c"/></g>
<g transform="translate(298.6,242.2) rotate(-24) scale(1,-1)"><path d="M-24.9,-11 L-4.7,-12.4 L-2.7,-12.7 L3.6,-12.7 L5.9,-12.1 L24.3,-11 L26.1,-8.3 L27.3,-1.2 L31.4,2.4 L29.6,5.6 L23.7,5.3 L16.6,3 L13.6,4.7 L9.5,9.5 L5.9,10.7 L4.1,12.7 L-3.6,12.7 L-5,9.5 L-8.9,9.5 L-13.6,4.1 L-17.2,3 L-24.9,5.3 L-30.2,4.1 L-31.1,1.8 L-27,-1.2 L-25.8,-8.9Z" fill="#ddebf8" stroke="#5f9ccf" stroke-width="0.8" stroke-linejoin="round"/><path d="M-30.5,3 C-26,0 -20,-3 -12,-2.5 L-5,-3 L-5,1 C-10,1 -15,2 -18,3 C-22,4 -26,5 -30.5,3Z" fill="#aed0ef"/><path d="M30.5,3 C26,0 20,-3 12,-2.5 L5,-3 L5,1 C10,1 15,2 18,3 C22,4 26,5 30.5,3Z" fill="#aed0ef"/><path d="M-11,-1 C-8,-2 -5,-1 -4.5,1 L-4.5,8 C-7,9 -9,7 -10,4Z" fill="#e6f0fa"/><path d="M11,-1 C8,-2 5,-1 4.5,1 L4.5,8 C7,9 9,7 10,4Z" fill="#e6f0fa"/><path d="M-2.8,-12.7 L3.6,-12.7 L3.6,4 L5.6,4.5 L5.6,10.5 L4,12.7 L-3.6,12.7 L-4.9,10 L-4.9,4.5 L-2.8,4Z" fill="#4b86b8" stroke="#3d6f9c" stroke-width="0.6"/></g>
<path d="M277,213.6 C292,228 312,252 328.1,272.57" fill="none" stroke="#6e1f48" stroke-width="1.6" stroke-dasharray="2.6 2.4"/><polygon points="331.8,277.3 323.72,273.47 330.02,268.53" fill="#6e1f48"/>
<path d="M293.6,209 C298,232 303,258 305.69,280.44" fill="none" stroke="#6e1f48" stroke-width="1.6" stroke-dasharray="2.6 2.4"/><polygon points="306.4,286.4 301.48,278.93 309.42,277.98" fill="#6e1f48"/>
<g transform="translate(250.9,209.1)"><circle r="15.4" fill="#c441c3" stroke="#5e1a45" stroke-width="1.2"/><g transform="rotate(-40)"><text x="-11.5" y="5.6" font-size="15.5" fill="#fff" textLength="19" lengthAdjust="spacingAndGlyphs">Na</text><text x="7" y="-2" font-size="9.5" fill="#fff">+</text></g></g>
<g transform="translate(319.6,193.6)"><circle r="16" fill="#c84a4b" stroke="#5e1a22" stroke-width="1.2"/><g transform="rotate(13)"><text x="-12" y="4.8" font-size="13.5" fill="#fff" textLength="15.5" lengthAdjust="spacingAndGlyphs">Ca</text><text x="3.6" y="3.2" font-size="8.6" fill="#fff" textLength="9" lengthAdjust="spacingAndGlyphs">2+</text></g></g>
<g transform="translate(353.1,261.5)"><circle r="15.4" fill="#c441c3" stroke="#5e1a45" stroke-width="1.2"/><g transform="rotate(-40)"><text x="-11.5" y="5.6" font-size="15.5" fill="#fff" textLength="19" lengthAdjust="spacingAndGlyphs">Na</text><text x="7" y="-2" font-size="9.5" fill="#fff">+</text></g></g>
<g transform="translate(285.5,296.9)"><circle r="16" fill="#c84a4b" stroke="#5e1a22" stroke-width="1.2"/><g transform="rotate(12)"><text x="-12" y="4.8" font-size="13.5" fill="#fff" textLength="15.5" lengthAdjust="spacingAndGlyphs">Ca</text><text x="3.6" y="3.2" font-size="8.6" fill="#fff" textLength="9" lengthAdjust="spacingAndGlyphs">2+</text></g></g>
<g transform="translate(707,403) rotate(0) scale(1,1)"><path d="M-24.9,-11 L-4.7,-12.4 L-2.7,-12.7 L3.6,-12.7 L5.9,-12.1 L24.3,-11 L26.1,-8.3 L27.3,-1.2 L31.4,2.4 L29.6,5.6 L23.7,5.3 L16.6,3 L13.6,4.7 L9.5,9.5 L5.9,10.7 L4.1,12.7 L-3.6,12.7 L-5,9.5 L-8.9,9.5 L-13.6,4.1 L-17.2,3 L-24.9,5.3 L-30.2,4.1 L-31.1,1.8 L-27,-1.2 L-25.8,-8.9Z" fill="#ddebf8" stroke="#5f9ccf" stroke-width="0.8" stroke-linejoin="round"/><path d="M-30.5,3 C-26,0 -20,-3 -12,-2.5 L-5,-3 L-5,1 C-10,1 -15,2 -18,3 C-22,4 -26,5 -30.5,3Z" fill="#aed0ef"/><path d="M30.5,3 C26,0 20,-3 12,-2.5 L5,-3 L5,1 C10,1 15,2 18,3 C22,4 26,5 30.5,3Z" fill="#aed0ef"/><path d="M-11,-1 C-8,-2 -5,-1 -4.5,1 L-4.5,8 C-7,9 -9,7 -10,4Z" fill="#e6f0fa"/><path d="M11,-1 C8,-2 5,-1 4.5,1 L4.5,8 C7,9 9,7 10,4Z" fill="#e6f0fa"/><path d="M-2.8,-12.7 L3.6,-12.7 L3.6,4 L5.6,4.5 L5.6,10.5 L4,12.7 L-3.6,12.7 L-4.9,10 L-4.9,4.5 L-2.8,4Z" fill="#4b86b8" stroke="#3d6f9c" stroke-width="0.6"/></g>
<path d="M698.1,436.7 C706,415 706,385 696.62,365.7" fill="none" stroke="#6e1f48" stroke-width="1.6" stroke-dasharray="2.6 2.4"/><polygon points="694,360.3 701.09,365.75 693.9,369.24" fill="#6e1f48"/>
<path d="M715.3,438.5 C706,415 708,385 716.53,365.21" fill="none" stroke="#6e1f48" stroke-width="1.6" stroke-dasharray="2.6 2.4"/><polygon points="718.9,359.7 719.41,368.63 712.06,365.46" fill="#6e1f48"/>
<g transform="translate(667.3,349.6)"><circle r="15.4" fill="#c441c3" stroke="#5e1a45" stroke-width="1.2"/><g transform="rotate(-5)"><text x="-11.5" y="5.6" font-size="15.5" fill="#fff" textLength="19" lengthAdjust="spacingAndGlyphs">Na</text><text x="7" y="-2" font-size="9.5" fill="#fff">+</text></g></g>
<g transform="translate(739.6,344.9)"><circle r="16" fill="#c84a4b" stroke="#5e1a22" stroke-width="1.2"/><g transform="rotate(11)"><text x="-12" y="4.8" font-size="13.5" fill="#fff" textLength="15.5" lengthAdjust="spacingAndGlyphs">Ca</text><text x="3.6" y="3.2" font-size="8.6" fill="#fff" textLength="9" lengthAdjust="spacingAndGlyphs">2+</text></g></g>
<g transform="translate(659,422.5)"><circle r="16" fill="#c84a4b" stroke="#5e1a22" stroke-width="1.2"/><g transform="rotate(12)"><text x="-12" y="4.8" font-size="13.5" fill="#fff" textLength="15.5" lengthAdjust="spacingAndGlyphs">Ca</text><text x="3.6" y="3.2" font-size="8.6" fill="#fff" textLength="9" lengthAdjust="spacingAndGlyphs">2+</text></g></g>
<g transform="translate(748.5,424.9)"><circle r="15.4" fill="#c441c3" stroke="#5e1a45" stroke-width="1.2"/><g transform="rotate(-8)"><text x="-11.5" y="5.6" font-size="15.5" fill="#fff" textLength="19" lengthAdjust="spacingAndGlyphs">Na</text><text x="7" y="-2" font-size="9.5" fill="#fff">+</text></g></g>
<path d="M334.8,298.2 C360,326 395,350 446,358" fill="none" stroke="url(#gInh)" stroke-width="3.2"/>
<line x1="447.3" y1="349.3" x2="446.6" y2="367.9" stroke="#1f2222" stroke-width="3.6"/>
<circle cx="483.3" cy="353.8" r="6.1" fill="url(#ros)"/>
<circle cx="500.7" cy="347.8" r="6.1" fill="url(#ros)"/>
<circle cx="493.8" cy="369" r="6.1" fill="url(#ros)"/>
<polygon points="335.5,75 348.7,78.2 333,96.7 345.1,100.2 327.3,118 338.4,120.8 303.5,154.2 321.7,124 312.4,126.1 327.7,104.1 318.1,103.4" fill="#e8821a"/>
<text x="182.59" y="66" font-size="31.59" font-weight="bold" fill="#000" textLength="158.2" lengthAdjust="spacingAndGlyphs">Mechanical</text>
<text x="219.2" y="99.5" font-size="31.59" font-weight="bold" fill="#000" textLength="84.4" lengthAdjust="spacingAndGlyphs">stress</text>
<text x="937.88" y="72.7" font-size="33.62" font-weight="bold" fill="#000" textLength="258.91" lengthAdjust="spacingAndGlyphs">Muscle stem cell</text>
<text x="992.43" y="110.8" font-size="33.62" font-weight="bold" fill="#000" textLength="148.19" lengthAdjust="spacingAndGlyphs">quiescent</text>
<text x="596.77" y="204.8" font-size="29.13" font-weight="bold" fill="#000" textLength="55.5" lengthAdjust="spacingAndGlyphs">P53</text>
<text x="455.52" y="319.6" font-size="31.01" font-weight="bold" fill="#000" textLength="59.19" lengthAdjust="spacingAndGlyphs">ROS</text>
<text x="1061.99" y="564.6" font-size="34.2" font-weight="bold" fill="#000" textLength="135.51" lengthAdjust="spacingAndGlyphs">Myofiber</text>
<g transform="translate(167.4,223.9) rotate(-29)"><text x="-1.75" y="0" font-size="30.43" font-weight="bold" fill="#000" textLength="95.87" lengthAdjust="spacingAndGlyphs">PIEZO1</text></g>
<rect x="251.8" y="1016.7" width="2" height="20" fill="#a5203f"/>
<rect x="248.3" y="1026.5" width="9" height="5.2" rx="1" fill="#e0874f"/>
<rect x="248.3" y="1035.7" width="9" height="29.5" rx="1" fill="#eb8fa3"/>
<line x1="248.3" x2="257.3" y1="1040.7" y2="1040.7" stroke="#d46f88" stroke-width="0.6"/>
<line x1="248.3" x2="257.3" y1="1045.7" y2="1045.7" stroke="#d46f88" stroke-width="0.6"/>
<line x1="248.3" x2="257.3" y1="1050.7" y2="1050.7" stroke="#d46f88" stroke-width="0.6"/>
<line x1="248.3" x2="257.3" y1="1055.7" y2="1055.7" stroke="#d46f88" stroke-width="0.6"/>
<line x1="248.3" x2="257.3" y1="1060.7" y2="1060.7" stroke="#d46f88" stroke-width="0.6"/>
<rect x="263.9" y="1052.3" width="2.2" height="60.1" rx="1" fill="#1d5e47"/>
<rect x="260" y="1056.6" width="10" height="3.8" rx="1.9" fill="#3a9a8c"/>
<rect x="260" y="1063.3" width="10" height="4.8" rx="1" fill="#1c6aa0"/>
<rect x="260" y="1068" width="10" height="15.2" rx="1" fill="#4e9b5b"/>
<line x1="260" x2="270" y1="1071.8" y2="1071.8" stroke="#3a7a45" stroke-width="0.6"/>
<line x1="260" x2="270" y1="1075.6" y2="1075.6" stroke="#3a7a45" stroke-width="0.6"/>
<line x1="260" x2="270" y1="1079.4" y2="1079.4" stroke="#3a7a45" stroke-width="0.6"/>
<rect x="613.5" y="1018.3" width="2" height="20" fill="#a5203f"/>
<rect x="610" y="1028.1" width="9" height="5.2" rx="1" fill="#e0874f"/>
<rect x="610" y="1037.3" width="9" height="29.5" rx="1" fill="#eb8fa3"/>
<line x1="610" x2="619" y1="1042.3" y2="1042.3" stroke="#d46f88" stroke-width="0.6"/>
<line x1="610" x2="619" y1="1047.3" y2="1047.3" stroke="#d46f88" stroke-width="0.6"/>
<line x1="610" x2="619" y1="1052.3" y2="1052.3" stroke="#d46f88" stroke-width="0.6"/>
<line x1="610" x2="619" y1="1057.3" y2="1057.3" stroke="#d46f88" stroke-width="0.6"/>
<line x1="610" x2="619" y1="1062.3" y2="1062.3" stroke="#d46f88" stroke-width="0.6"/>
<rect x="625" y="1053.5" width="2.2" height="60.4" rx="1" fill="#1d5e47"/>
<rect x="621.1" y="1057.8" width="10" height="3.8" rx="1.9" fill="#3a9a8c"/>
<rect x="621.1" y="1064.5" width="10" height="4.8" rx="1" fill="#1c6aa0"/>
<rect x="621.1" y="1069.2" width="10" height="15.2" rx="1" fill="#4e9b5b"/>
<line x1="621.1" x2="631.1" y1="1073" y2="1073" stroke="#3a7a45" stroke-width="0.6"/>
<line x1="621.1" x2="631.1" y1="1076.8" y2="1076.8" stroke="#3a7a45" stroke-width="0.6"/>
<line x1="621.1" x2="631.1" y1="1080.6" y2="1080.6" stroke="#3a7a45" stroke-width="0.6"/>
<rect x="904.8" y="1018.3" width="2" height="20" fill="#a5203f"/>
<rect x="901.3" y="1028.1" width="9" height="5.2" rx="1" fill="#e0874f"/>
<rect x="901.3" y="1037.3" width="9" height="29.5" rx="1" fill="#eb8fa3"/>
<line x1="901.3" x2="910.3" y1="1042.3" y2="1042.3" stroke="#d46f88" stroke-width="0.6"/>
<line x1="901.3" x2="910.3" y1="1047.3" y2="1047.3" stroke="#d46f88" stroke-width="0.6"/>
<line x1="901.3" x2="910.3" y1="1052.3" y2="1052.3" stroke="#d46f88" stroke-width="0.6"/>
<line x1="901.3" x2="910.3" y1="1057.3" y2="1057.3" stroke="#d46f88" stroke-width="0.6"/>
<line x1="901.3" x2="910.3" y1="1062.3" y2="1062.3" stroke="#d46f88" stroke-width="0.6"/>
<rect x="916.6" y="1053.5" width="2.2" height="60.4" rx="1" fill="#1d5e47"/>
<rect x="912.7" y="1057.8" width="10" height="3.8" rx="1.9" fill="#3a9a8c"/>
<rect x="912.7" y="1064.5" width="10" height="4.8" rx="1" fill="#1c6aa0"/>
<rect x="912.7" y="1069.2" width="10" height="15.2" rx="1" fill="#4e9b5b"/>
<line x1="912.7" x2="922.7" y1="1073" y2="1073" stroke="#3a7a45" stroke-width="0.6"/>
<line x1="912.7" x2="922.7" y1="1076.8" y2="1076.8" stroke="#3a7a45" stroke-width="0.6"/>
<line x1="912.7" x2="922.7" y1="1080.6" y2="1080.6" stroke="#3a7a45" stroke-width="0.6"/>
<g transform="translate(766.4,787) rotate(46)"><path d="M-15,8.25 C-15.5,12.75 -9.5,12.75 -10,8.25 M-10,-8.25 C-10.5,-12.75 -4.5,-12.75 -5,-8.25 M-5,8.25 C-5.5,12.75 0.5,12.75 0,8.25 M0,-8.25 C-0.5,-12.75 5.5,-12.75 5,-8.25 M5,8.25 C4.5,12.75 10.5,12.75 10,8.25 M10,-8.25 C9.5,-12.75 15.5,-12.75 15,-8.25 M-15,-8.25 C-15,-12.25 -16,-14.25 -13,-15.25 C-10,-16.25 -9,-13.25 -5,-14.25 M15,8.25 C15,12.25 16,14.25 13,15.25 C10,16.25 9,13.25 5,14.25" fill="none" stroke="#2c4a9a" stroke-width="1"/><rect x="-16.35" y="-8.25" width="2.7" height="16.5" rx="1.3" fill="#3e4d1c" stroke="#2c3512" stroke-width="0.4"/><rect x="-11.35" y="-8.25" width="2.7" height="16.5" rx="1.3" fill="#3e4d1c" stroke="#2c3512" stroke-width="0.4"/><rect x="-6.35" y="-8.25" width="2.7" height="16.5" rx="1.3" fill="#3e4d1c" stroke="#2c3512" stroke-width="0.4"/><rect x="-1.35" y="-8.25" width="2.7" height="16.5" rx="1.3" fill="#3e4d1c" stroke="#2c3512" stroke-width="0.4"/><rect x="3.65" y="-8.25" width="2.7" height="16.5" rx="1.3" fill="#3e4d1c" stroke="#2c3512" stroke-width="0.4"/><rect x="8.65" y="-8.25" width="2.7" height="16.5" rx="1.3" fill="#3e4d1c" stroke="#2c3512" stroke-width="0.4"/><rect x="13.65" y="-8.25" width="2.7" height="16.5" rx="1.3" fill="#3e4d1c" stroke="#2c3512" stroke-width="0.4"/></g>
<g transform="translate(809,857.2) rotate(-58.37) scale(1.01)"><line x1="0" y1="0" x2="26" y2="0" stroke="#0f3a50" stroke-width="2"/><ellipse cx="31" cy="0" rx="6.5" ry="3.6" fill="#1f6e9e"/><ellipse cx="43.5" cy="0" rx="7" ry="3.8" fill="#1f6e9e"/><rect x="49" y="-4.6" width="2.6" height="9.2" rx="1" fill="#1f6e9e"/><ellipse cx="56.5" cy="0" rx="5" ry="4" fill="#1f6e9e"/><ellipse cx="68" cy="0" rx="7.2" ry="6.5" fill="#1f6e9e"/></g>
<g transform="translate(884.4,895.3) rotate(-56.68) scale(1.01)"><line x1="0" y1="0" x2="26" y2="0" stroke="#7a1a1a" stroke-width="2"/><ellipse cx="31" cy="0" rx="6.5" ry="3.6" fill="#c94c4c"/><ellipse cx="43.5" cy="0" rx="7" ry="3.8" fill="#c94c4c"/><rect x="49" y="-4.6" width="2.6" height="9.2" rx="1" fill="#c94c4c"/><ellipse cx="56.5" cy="0" rx="5" ry="4" fill="#c94c4c"/><ellipse cx="68" cy="0" rx="7.2" ry="6.5" fill="#c94c4c"/></g>
<polygon points="367.3,695.3 398,705 389.8,712.5 416.8,717.8 410,723.8 443.1,732.8 396.5,730.8 403.3,721.5 377,719.3 383.8,709.5 360.5,705.8" fill="#e8821a"/>
<polygon points="466.4,733.1 470.2,751.7 474.0,754.2 498.0,753.6 506.2,751.1 518.2,718.9 515.7,715.4 501.1,707.5 497.0,710.0 496.1,718.9 487.9,718.2 481.5,720.1 479.6,726.4 474.0,731.2" fill="#a69985" stroke="#4f3f2c" stroke-width="0.9" stroke-linejoin="round"/>
<polygon points="479.6,726.8 480.9,720.7 485.3,718.2 489.1,718.5 496.1,719.8 496.7,711.6 500.2,708.4 505.6,718.9 504.9,730.9 503.7,733.4 505.6,750.4 496.1,742.2 475.9,742.2 473.3,735.0 479.6,733.4" fill="#6e5a40"/>
<polygon points="482.2,735.9 482.8,729.6 486.6,727.1 490.4,728.3 495.4,723.3 500.5,725.2 503.7,729.6 503.7,733.4 495.4,742.2 483.4,742.2" fill="#a69985" stroke="#e8dccb" stroke-width="0.6"/>
<g opacity="0.9"><path d="M484.7,702.4 L506.2,765" stroke="#f43a42" stroke-width="5.2" stroke-linecap="round"/><path d="M462,727.7 L528.3,740.3" stroke="#f43a42" stroke-width="5.2" stroke-linecap="round"/></g>
<g transform="translate(81.6,797.8)"><circle r="16" fill="#c84a4b" stroke="#5e1a22" stroke-width="1.2"/><g transform="rotate(11)"><text x="-12" y="4.8" font-size="13.5" fill="#fff" textLength="15.5" lengthAdjust="spacingAndGlyphs">Ca</text><text x="3.6" y="3.2" font-size="8.6" fill="#fff" textLength="9" lengthAdjust="spacingAndGlyphs">2+</text></g></g>
<g transform="translate(160.6,779.2)"><circle r="16" fill="#c84a4b" stroke="#5e1a22" stroke-width="1.2"/><g transform="rotate(11)"><text x="-12" y="4.8" font-size="13.5" fill="#fff" textLength="15.5" lengthAdjust="spacingAndGlyphs">Ca</text><text x="3.6" y="3.2" font-size="8.6" fill="#fff" textLength="9" lengthAdjust="spacingAndGlyphs">2+</text></g></g>
<g transform="translate(193.1,972.4)"><circle r="16" fill="#c84a4b" stroke="#5e1a22" stroke-width="1.2"/><g transform="rotate(11)"><text x="-12" y="4.8" font-size="13.5" fill="#fff" textLength="15.5" lengthAdjust="spacingAndGlyphs">Ca</text><text x="3.6" y="3.2" font-size="8.6" fill="#fff" textLength="9" lengthAdjust="spacingAndGlyphs">2+</text></g></g>
<g transform="translate(236.7,959.4)"><circle r="16" fill="#c84a4b" stroke="#5e1a22" stroke-width="1.2"/><g transform="rotate(11)"><text x="-12" y="4.8" font-size="13.5" fill="#fff" textLength="15.5" lengthAdjust="spacingAndGlyphs">Ca</text><text x="3.6" y="3.2" font-size="8.6" fill="#fff" textLength="9" lengthAdjust="spacingAndGlyphs">2+</text></g></g>
<g transform="translate(177.2,1010.2)"><circle r="16" fill="#c84a4b" stroke="#5e1a22" stroke-width="1.2"/><g transform="rotate(11)"><text x="-12" y="4.8" font-size="13.5" fill="#fff" textLength="15.5" lengthAdjust="spacingAndGlyphs">Ca</text><text x="3.6" y="3.2" font-size="8.6" fill="#fff" textLength="9" lengthAdjust="spacingAndGlyphs">2+</text></g></g>
<g transform="translate(221.8,1003.4)"><circle r="16" fill="#c84a4b" stroke="#5e1a22" stroke-width="1.2"/><g transform="rotate(11)"><text x="-12" y="4.8" font-size="13.5" fill="#fff" textLength="15.5" lengthAdjust="spacingAndGlyphs">Ca</text><text x="3.6" y="3.2" font-size="8.6" fill="#fff" textLength="9" lengthAdjust="spacingAndGlyphs">2+</text></g></g>
<g transform="translate(271.6,991.9)"><circle r="16" fill="#c84a4b" stroke="#5e1a22" stroke-width="1.2"/><g transform="rotate(11)"><text x="-12" y="4.8" font-size="13.5" fill="#fff" textLength="15.5" lengthAdjust="spacingAndGlyphs">Ca</text><text x="3.6" y="3.2" font-size="8.6" fill="#fff" textLength="9" lengthAdjust="spacingAndGlyphs">2+</text></g></g>
<g transform="translate(186.3,916.9) rotate(-22)"><rect x="-7.2" y="-13" width="6.4" height="26" rx="3.2" fill="#e8a06a" stroke="#b0703a" stroke-width="0.7"/><rect x="0.8" y="-13" width="6.4" height="26" rx="3.2" fill="#e8a06a" stroke="#b0703a" stroke-width="0.7"/></g>
<g transform="translate(226.7,900.1) rotate(-22)"><rect x="-7.2" y="-13" width="6.4" height="26" rx="3.2" fill="#b48ae0" stroke="#8a5ab8" stroke-width="0.7"/><rect x="0.8" y="-13" width="6.4" height="26" rx="3.2" fill="#b48ae0" stroke="#8a5ab8" stroke-width="0.7"/></g>
<line x1="175.4" y1="889.2" x2="196.58" y2="940.8" stroke="#2a3f7a" stroke-width="1.1"/><polygon points="198.1,944.5 194.35,940.63 198.05,939.12" fill="#2a3f7a"/>
<line x1="215.9" y1="875.4" x2="237.01" y2="924.03" stroke="#2a3f7a" stroke-width="1.1"/><polygon points="238.6,927.7 234.77,923.91 238.44,922.32" fill="#2a3f7a"/>
<rect x="308.6" y="941.1" width="78.6" height="43.7" rx="6" fill="#4b6a48" stroke="#2a352a" stroke-width="2"/>
<text x="330.11" y="959.8" font-size="17.68" font-weight="normal" fill="#fff" textLength="35.6" lengthAdjust="spacingAndGlyphs">PKC</text>
<text x="321.73" y="978.6" font-size="17.68" font-weight="normal" fill="#fff" textLength="52.38" lengthAdjust="spacingAndGlyphs">activity</text>
<path d="M336.35,853.33 C334.45,849.25 340.15,846.75 342.05,850.83 M347.75,848.43 C345.85,844.35 351.45,840.05 353.35,844.13 M364.75,836.33 C362.85,832.25 369.25,830.05 371.15,834.13 M351.35,870.77 C353.25,874.85 358.95,872.45 357.05,868.37 M362.65,864.07 C364.55,868.15 375.95,860.35 374.05,856.27 M345.65,873.27 C347.65,879.27 347.65,883.27 350.65,883.27 C354.65,882.27 356.65,878.27 360.65,877.27 M380.45,854.07 C383.45,859.07 390.45,861.07 388.45,866.07 C386.45,870.07 380.45,870.07 376.45,872.07" fill="none" stroke="#213f8f" stroke-width="1"/><g transform="translate(341,863.3) rotate(65)"><rect x="-11" y="-2.1" width="22" height="4.2" rx="2.1" fill="#5f8bd3" stroke="#2c4c98" stroke-width="0.7"/></g><g transform="translate(346.7,860.8) rotate(65)"><rect x="-11" y="-2.1" width="22" height="4.2" rx="2.1" fill="#5f8bd3" stroke="#2c4c98" stroke-width="0.7"/></g><g transform="translate(352.4,858.4) rotate(65)"><rect x="-11" y="-2.1" width="22" height="4.2" rx="2.1" fill="#5f8bd3" stroke="#2c4c98" stroke-width="0.7"/></g><g transform="translate(358,854.1) rotate(65)"><rect x="-11" y="-2.1" width="22" height="4.2" rx="2.1" fill="#5f8bd3" stroke="#2c4c98" stroke-width="0.7"/></g><g transform="translate(369.4,846.3) rotate(65)"><rect x="-11" y="-2.1" width="22" height="4.2" rx="2.1" fill="#5f8bd3" stroke="#2c4c98" stroke-width="0.7"/></g><g transform="translate(375.8,844.1) rotate(65)"><rect x="-11" y="-2.1" width="22" height="4.2" rx="2.1" fill="#5f8bd3" stroke="#2c4c98" stroke-width="0.7"/></g><path d="M381.15,829.23 C379.25,825.15 384.95,821.55 386.85,825.63 M390.45,849.17 C393.45,854.17 397.45,855.17 396.45,860.17 M396.15,845.57 C399.15,850.57 403.15,851.57 402.15,856.57" fill="none" stroke="#7c1a1e" stroke-width="1"/><g transform="translate(385.8,839.2) rotate(65)"><rect x="-11" y="-2.1" width="22" height="4.2" rx="2.1" fill="#cf4848" stroke="#8a2020" stroke-width="0.7"/></g><g transform="translate(391.5,835.6) rotate(65)"><rect x="-11" y="-2.1" width="22" height="4.2" rx="2.1" fill="#cf4848" stroke="#8a2020" stroke-width="0.7"/></g>
<path d="M283.8,1019.5 C305,1018 322,1010 331.98,1003.09" fill="none" stroke="url(#gA1)" stroke-width="3" stroke-linecap="butt"/><polygon points="340.2,997.4 334.03,1009.57 326.63,998.89" fill="#222"/>
<path d="M372.5,937 C372,920 373,905 373.52,901.02" fill="none" stroke="url(#gA2)" stroke-width="3" stroke-linecap="butt"/><polygon points="374.8,891.1 379.71,903.84 366.81,902.17" fill="#222"/>
<path d="M409.5,875.3 C430,880 452,895 456.39,907.61" fill="none" stroke="url(#gA3)" stroke-width="3" stroke-linecap="butt"/><polygon points="460,918 449.59,907.86 461.87,903.59" fill="#222"/>
<path d="M481,923.5 C486,870 520,820 563.89,807.92" fill="none" stroke="url(#gA4)" stroke-width="3" stroke-linecap="butt"/><polygon points="574.5,805 563.69,814.72 560.24,802.18" fill="#222"/>
<path d="M704.8,917.5 C725,943 760,960 786.41,960.85" fill="none" stroke="url(#gA5)" stroke-width="3" stroke-linecap="butt"/><polygon points="797.4,961.2 784.2,967.28 784.62,954.29" fill="#222"/>
<path d="M1020.6,964.8 C1070,962 1108,930 1116.15,887.11" fill="none" stroke="url(#gA6)" stroke-width="3" stroke-linecap="butt"/><polygon points="1118.2,876.3 1122.16,890.28 1109.39,887.86" fill="#222"/>
<line x1="245.5" y1="848.7" x2="239.87" y2="830.6" stroke="#222" stroke-width="3.1"/><polygon points="236.6,820.1 246.13,829.7 234.2,833.42" fill="#222"/>
<line x1="382.7" y1="806.6" x2="373.31" y2="787.29" stroke="#222" stroke-width="3.1"/><polygon points="368.5,777.4 379.37,785.46 368.13,790.92" fill="#222"/>
<line x1="405.4" y1="974.2" x2="405.4" y2="953.1" stroke="#222" stroke-width="3.1"/><polygon points="405.4,942.1 411.65,954.1 399.15,954.1" fill="#222"/>
<line x1="518.9" y1="952.4" x2="518.9" y2="932.1" stroke="#222" stroke-width="3.1"/><polygon points="518.9,921.1 525.15,933.1 512.65,933.1" fill="#222"/>
<line x1="675.3" y1="809.3" x2="675.3" y2="788.8" stroke="#222" stroke-width="3.1"/><polygon points="675.3,777.8 681.55,789.8 669.05,789.8" fill="#222"/>
<line x1="629.5" y1="815.7" x2="629.5" y2="833.1" stroke="#222" stroke-width="3.1"/><polygon points="629.5,844.1 623.25,832.1 635.75,832.1" fill="#222"/>
<line x1="668.6" y1="878" x2="668.6" y2="857.5" stroke="#222" stroke-width="3.1"/><polygon points="668.6,846.5 674.85,858.5 662.35,858.5" fill="#222"/>
<line x1="999.6" y1="960" x2="999.6" y2="939.5" stroke="#222" stroke-width="3.1"/><polygon points="999.6,928.5 1005.85,940.5 993.35,940.5" fill="#222"/>
<line x1="1001.3" y1="1004.3" x2="1001.3" y2="983.7" stroke="#222" stroke-width="3.1"/><polygon points="1001.3,972.7 1007.55,984.7 995.05,984.7" fill="#222"/>
<line x1="1229.4" y1="813.4" x2="1229.4" y2="833.5" stroke="#222" stroke-width="3.1"/><polygon points="1229.4,844.5 1223.15,832.5 1235.65,832.5" fill="#222"/>
<circle cx="534.5" cy="959.2" r="6" fill="url(#ros)"/>
<circle cx="551.4" cy="952.9" r="6" fill="url(#ros)"/>
<circle cx="566.4" cy="964" r="6" fill="url(#ros)"/>
<circle cx="544.4" cy="974.7" r="6" fill="url(#ros)"/>
<circle cx="559.8" cy="987.7" r="6" fill="url(#ros)"/>
<circle cx="572.7" cy="986.4" r="6" fill="url(#ros)"/>
<circle cx="542.9" cy="994" r="6" fill="url(#ros)"/>
<circle cx="553" cy="1009" r="6" fill="url(#ros)"/>
<circle cx="589.8" cy="980.1" r="6" fill="url(#ros)"/>
<circle cx="582.7" cy="1001.9" r="6" fill="url(#ros)"/>
<circle cx="603.5" cy="968.2" r="6" fill="url(#ros)"/>
<circle cx="620.3" cy="962.1" r="6" fill="url(#ros)"/>
<circle cx="613.5" cy="983.7" r="6" fill="url(#ros)"/>
<circle cx="603.5" cy="1000" r="6" fill="url(#ros)"/>
<circle cx="624.1" cy="1006.3" r="6" fill="url(#ros)"/>
<circle cx="633.2" cy="976.9" r="6" fill="url(#ros)"/>
<circle cx="650.1" cy="970.8" r="6" fill="url(#ros)"/>
<circle cx="643.2" cy="992.1" r="6" fill="url(#ros)"/>
<circle cx="664.8" cy="984" r="6" fill="url(#ros)"/>
<circle cx="681.9" cy="977.7" r="6" fill="url(#ros)"/>
<circle cx="674.8" cy="999.2" r="6" fill="url(#ros)"/>
<text x="225.18" y="676" font-size="31.16" font-weight="bold" fill="#000" textLength="158.92" lengthAdjust="spacingAndGlyphs">Mechanical</text>
<text x="262.1" y="709.1" font-size="31.16" font-weight="bold" fill="#000" textLength="84.61" lengthAdjust="spacingAndGlyphs">stress</text>
<g transform="translate(439.5,681.5) rotate(-2)"><text x="-1.81" y="0" font-size="30.43" font-weight="bold" fill="#000" textLength="99.26" lengthAdjust="spacingAndGlyphs">PIEZO1</text></g>
<text x="938.48" y="698" font-size="33.62" font-weight="bold" fill="#000" textLength="259.31" lengthAdjust="spacingAndGlyphs">Muscle stem cell</text>
<text x="1002.83" y="735.6" font-size="33.62" font-weight="bold" fill="#000" textLength="140.29" lengthAdjust="spacingAndGlyphs">activated</text>
<text x="1027.4" y="818.7" font-size="33.77" font-weight="bold" fill="#000" textLength="184.66" lengthAdjust="spacingAndGlyphs">Myogenesis</text>
<text x="1028.21" y="856.4" font-size="33.77" font-weight="bold" fill="#000" textLength="175.13" lengthAdjust="spacingAndGlyphs">capabilities</text>
<text x="601" y="802.7" font-size="30.29" font-weight="bold" fill="#000" textLength="54.65" lengthAdjust="spacingAndGlyphs">P53</text>
<text x="593.51" y="872.6" font-size="31.01" font-weight="bold" fill="#000" textLength="51.7" lengthAdjust="spacingAndGlyphs">P21</text>
<text x="446.05" y="951.5" font-size="29.71" font-weight="bold" fill="#000" textLength="58.45" lengthAdjust="spacingAndGlyphs">ROS</text>
<text x="816.74" y="952.4" font-size="29.28" font-weight="bold" fill="#000" textLength="165.72" lengthAdjust="spacingAndGlyphs">Senescence</text>
<text x="833.05" y="996.7" font-size="30" font-weight="bold" fill="#000" textLength="137.14" lengthAdjust="spacingAndGlyphs">Cell death</text>
<text x="1062.39" y="1213" font-size="34.2" font-weight="bold" fill="#000" textLength="135.1" lengthAdjust="spacingAndGlyphs">Myofiber</text>
<g transform="translate(91.9,876.9) rotate(-23.3)"><text x="-0.28" y="0" font-size="30.43" font-weight="bold" fill="#000" textLength="127.17" lengthAdjust="spacingAndGlyphs">T-type Ca</text></g>
<g transform="translate(208,826) rotate(-23.3)"><text x="1" y="-12" font-size="15" font-weight="bold">2+</text></g>
<g transform="translate(116.2,900.1) rotate(-22.2)"><text x="-1.13" y="0" font-size="30.43" font-weight="bold" fill="#000" textLength="122.67" lengthAdjust="spacingAndGlyphs">channels</text></g>
<g transform="translate(303.7,844.5) rotate(-28.5)"><text x="-1.79" y="0" font-size="31.3" font-weight="bold" fill="#000" textLength="74.81" lengthAdjust="spacingAndGlyphs">NOX4</text></g>
</svg>
</body></html>
